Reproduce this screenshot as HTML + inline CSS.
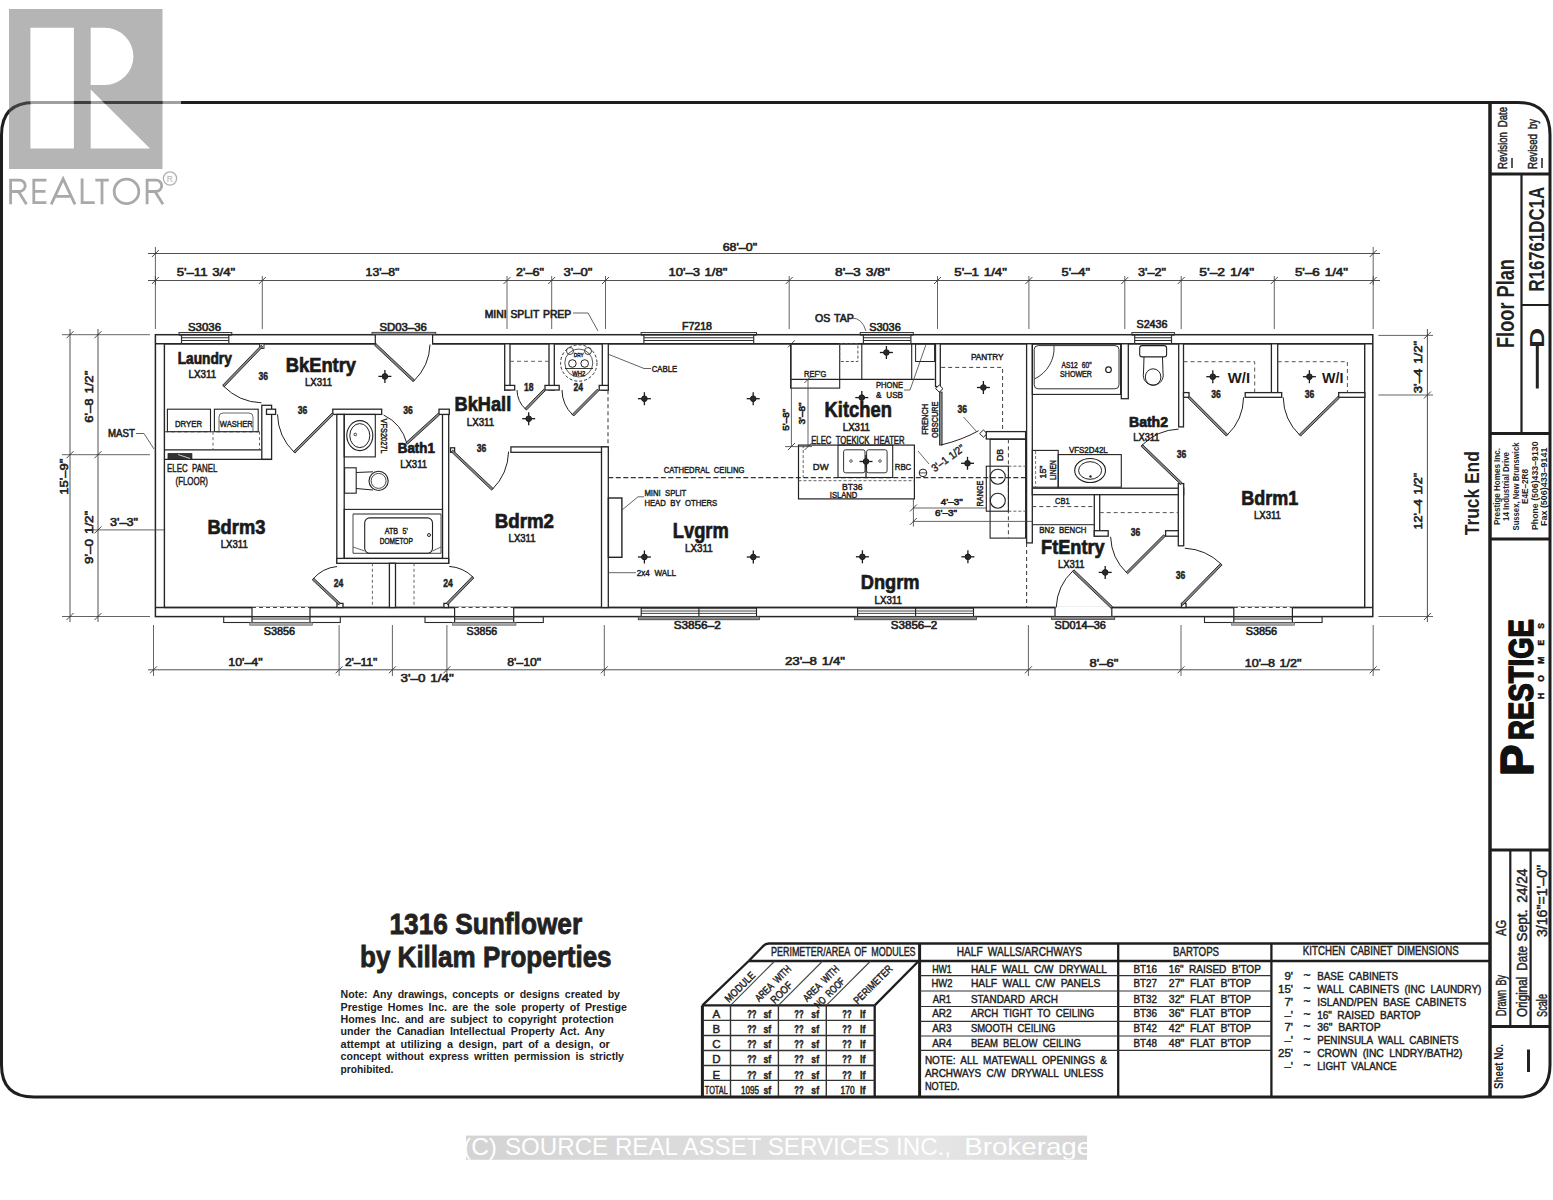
<!DOCTYPE html><html><head><meta charset="utf-8"><style>html,body{margin:0;padding:0;background:#fff;width:1553px;height:1200px;overflow:hidden}svg{display:block}text{font-family:"Liberation Sans",sans-serif;fill:#222}.hv text,text.hv{stroke:#222;stroke-width:0.45;word-spacing:3px}.hv2 text{stroke-width:0.6;word-spacing:1px}</style></head><body>
<svg width="1553" height="1200" viewBox="0 0 1553 1200"><rect width="1553" height="1200" fill="#fff"/>
<g stroke="#1e1e1e" stroke-width="3" fill="none">
<path d="M1.5,135 Q1.5,102.5 34,102.5 L1518,102.5 Q1550,102.5 1550,135 L1550,1065 Q1550,1097 1518,1097 L34,1097 Q1.5,1097 1.5,1065 Z"/>
</g>
<line x1="1490" y1="102.5" x2="1490" y2="1097" stroke="#1e1e1e" stroke-width="3.5"/>
<line x1="1490" y1="174" x2="1550" y2="174" stroke="#1e1e1e" stroke-width="3"/>
<line x1="1490" y1="433.5" x2="1550" y2="433.5" stroke="#1e1e1e" stroke-width="3"/>
<line x1="1490" y1="539" x2="1550" y2="539" stroke="#1e1e1e" stroke-width="3"/>
<line x1="1490" y1="850" x2="1550" y2="850" stroke="#1e1e1e" stroke-width="3"/>
<line x1="1490" y1="1026.5" x2="1550" y2="1026.5" stroke="#1e1e1e" stroke-width="3"/>
<line x1="1521.5" y1="174" x2="1521.5" y2="433.5" stroke="#1e1e1e" stroke-width="2.2"/>
<line x1="1521.5" y1="305" x2="1550" y2="305" stroke="#1e1e1e" stroke-width="2"/>
<line x1="1510.3" y1="850" x2="1510.3" y2="1026.5" stroke="#1e1e1e" stroke-width="2.2"/>
<line x1="1530.6" y1="850" x2="1530.6" y2="1026.5" stroke="#1e1e1e" stroke-width="2.2"/>
<text transform="translate(1506.5,169) rotate(-90)" font-size="13" textLength="62" lengthAdjust="spacingAndGlyphs" class="hv">Revision Date</text>
<text transform="translate(1536.5,169) rotate(-90)" font-size="13" textLength="50" lengthAdjust="spacingAndGlyphs" class="hv">Revised by</text>
<line x1="1512" y1="158" x2="1512" y2="168" stroke="#222" stroke-width="1.5"/>
<line x1="1542" y1="158" x2="1542" y2="168" stroke="#222" stroke-width="1.5"/>
<text transform="translate(1514.3,348) rotate(-90)" font-size="24.5" font-weight="bold" textLength="89" lengthAdjust="spacingAndGlyphs" >Floor Plan</text>
<text transform="translate(1544,291.6) rotate(-90)" font-size="22" font-weight="bold" textLength="104.7" lengthAdjust="spacingAndGlyphs" >R16761DC1A</text>
<line x1="1537.3" y1="346" x2="1537.3" y2="388.5" stroke="#222" stroke-width="3"/>
<text transform="translate(1544,348) rotate(-90)" font-size="21" font-weight="bold" textLength="20.3" lengthAdjust="spacingAndGlyphs" >D</text>
<text transform="translate(1499.5,525) rotate(-90)" font-size="9" font-weight="bold" textLength="77" lengthAdjust="spacingAndGlyphs" >Prestige Homes Inc.</text>
<text transform="translate(1509,521) rotate(-90)" font-size="9" font-weight="bold" textLength="69" lengthAdjust="spacingAndGlyphs" >14 Industrial Drive</text>
<text transform="translate(1518.5,530.5) rotate(-90)" font-size="9" font-weight="bold" textLength="88" lengthAdjust="spacingAndGlyphs" >Sussex, New Brunswick</text>
<text transform="translate(1528,504) rotate(-90)" font-size="9" font-weight="bold" textLength="35" lengthAdjust="spacingAndGlyphs" >E4E–2R8</text>
<text transform="translate(1537.5,530) rotate(-90)" font-size="9" font-weight="bold" textLength="88.5" lengthAdjust="spacingAndGlyphs" >Phone  (506)433–9130</text>
<text transform="translate(1547,526) rotate(-90)" font-size="9" font-weight="bold" textLength="78.5" lengthAdjust="spacingAndGlyphs" >Fax  (506)433–9141</text>
<g transform="translate(1533,776) rotate(-90)" style="stroke:#111;stroke-width:1.6;stroke-linejoin:round">
<text x="0" y="0" font-size="46" font-weight="bold" textLength="31.5" lengthAdjust="spacingAndGlyphs" style="fill:#111" >P</text>
<text x="36" y="0" font-size="35.5" font-weight="bold" textLength="121" lengthAdjust="spacingAndGlyphs" style="fill:#111" >RESTIGE</text>
</g>
<g transform="translate(1533,776) rotate(-90)">
<text x="77" y="11" font-size="8.5" font-weight="bold" textLength="76" lengthAdjust="spacing" style="fill:#111;stroke:#111;stroke-width:0.4">HOMES</text>
</g>
<text transform="translate(1506.3,1016) rotate(-90)" font-size="14" textLength="41" lengthAdjust="spacingAndGlyphs" class="hv">Drawn By</text>
<text transform="translate(1506.3,936) rotate(-90)" font-size="14" textLength="16" lengthAdjust="spacingAndGlyphs" class="hv">AG</text>
<text transform="translate(1526.5,1017) rotate(-90)" font-size="14" textLength="71" lengthAdjust="spacingAndGlyphs" class="hv">Original Date</text>
<text transform="translate(1526.5,941.5) rotate(-90)" font-size="14" textLength="73" lengthAdjust="spacingAndGlyphs" class="hv">Sept. 24/24</text>
<text transform="translate(1546.5,1017) rotate(-90)" font-size="14" textLength="23" lengthAdjust="spacingAndGlyphs" class="hv">Scale</text>
<text transform="translate(1546.5,937) rotate(-90)" font-size="14" textLength="72" lengthAdjust="spacingAndGlyphs" class="hv">3/16"=1'–0"</text>
<text transform="translate(1503,1089) rotate(-90)" font-size="12.5" font-weight="bold" textLength="45" lengthAdjust="spacingAndGlyphs" >Sheet No.</text>
<line x1="1528.5" y1="1049.5" x2="1528.5" y2="1072" stroke="#222" stroke-width="3"/>
<text transform="translate(1478.8,535.2) rotate(-90)" font-size="21" font-weight="bold" textLength="84" lengthAdjust="spacingAndGlyphs" >Truck End</text>
<text x="389.5" y="933.8" font-size="29" font-weight="bold" textLength="192.7" lengthAdjust="spacingAndGlyphs" style="stroke:#222;stroke-width:0.8">1316 Sunflower</text>
<text x="360" y="967.3" font-size="29" font-weight="bold" textLength="251.6" lengthAdjust="spacingAndGlyphs" style="stroke:#222;stroke-width:0.8">by Killam Properties</text>
<text x="340.6" y="998.2" font-size="11.5" font-weight="bold" textLength="279.4" lengthAdjust="spacingAndGlyphs" style="word-spacing:2.5px">Note:  Any drawings, concepts or designs created by</text>
<text x="340.6" y="1010.6" font-size="11.5" font-weight="bold" textLength="286.4" lengthAdjust="spacingAndGlyphs" style="word-spacing:2.5px">Prestige Homes Inc. are the sole property of Prestige</text>
<text x="340.6" y="1023.0" font-size="11.5" font-weight="bold" textLength="273.2" lengthAdjust="spacingAndGlyphs" style="word-spacing:2.5px">Homes Inc. and are subject to copyright protection</text>
<text x="340.6" y="1035.4" font-size="11.5" font-weight="bold" textLength="264" lengthAdjust="spacingAndGlyphs" style="word-spacing:2.5px">under the Canadian Intellectual Property Act. Any</text>
<text x="340.6" y="1047.8" font-size="11.5" font-weight="bold" textLength="269.2" lengthAdjust="spacingAndGlyphs" style="word-spacing:2.5px">attempt at utilizing a design, part of a design, or</text>
<text x="340.6" y="1060.2" font-size="11.5" font-weight="bold" textLength="283.4" lengthAdjust="spacingAndGlyphs" style="word-spacing:2.5px">concept without express written permission is strictly</text>
<text x="340.6" y="1072.6000000000001" font-size="11.5" font-weight="bold" textLength="52.8" lengthAdjust="spacingAndGlyphs" style="word-spacing:2.5px">prohibited.</text>
<g class="hv">
<path d="M748.7,961 L762,947.3 Q765,943.5 769,943.5 L1490,943.5" stroke="#1e1e1e" stroke-width="2.3" fill="none" />
<line x1="748.7" y1="961" x2="1490" y2="961" stroke="#1e1e1e" stroke-width="2.3"/>
<line x1="702.4" y1="1005.4" x2="874.7" y2="1005.4" stroke="#1e1e1e" stroke-width="2.3"/>
<line x1="702.4" y1="1005.4" x2="702.4" y2="1096" stroke="#1e1e1e" stroke-width="3.0"/>
<line x1="874.7" y1="1005.4" x2="874.7" y2="1096" stroke="#1e1e1e" stroke-width="2.3"/>
<line x1="702.4" y1="1005.4" x2="748.7" y2="961" stroke="#1e1e1e" stroke-width="2.3"/>
<line x1="874.7" y1="1005.4" x2="918.7" y2="961" stroke="#1e1e1e" stroke-width="2.3"/>
<line x1="919.6" y1="943.5" x2="919.6" y2="1096" stroke="#1e1e1e" stroke-width="3.0"/>
<line x1="730.5" y1="1005.4" x2="730.5" y2="1096" stroke="#333" stroke-width="1.4"/>
<line x1="730.5" y1="1005.4" x2="774.8" y2="961" stroke="#444" stroke-width="1.1"/>
<line x1="778.4" y1="1005.4" x2="778.4" y2="1096" stroke="#333" stroke-width="1.4"/>
<line x1="778.4" y1="1005.4" x2="822.6999999999999" y2="961" stroke="#444" stroke-width="1.1"/>
<line x1="826.3" y1="1005.4" x2="826.3" y2="1096" stroke="#333" stroke-width="1.4"/>
<line x1="826.3" y1="1005.4" x2="870.5999999999999" y2="961" stroke="#444" stroke-width="1.1"/>
<line x1="702.4" y1="1020.4" x2="874.7" y2="1020.4" stroke="#333" stroke-width="1.4"/>
<line x1="702.4" y1="1035.5" x2="874.7" y2="1035.5" stroke="#333" stroke-width="1.4"/>
<line x1="702.4" y1="1050.5" x2="874.7" y2="1050.5" stroke="#333" stroke-width="1.4"/>
<line x1="702.4" y1="1065.5" x2="874.7" y2="1065.5" stroke="#333" stroke-width="1.4"/>
<line x1="702.4" y1="1080.4" x2="874.7" y2="1080.4" stroke="#333" stroke-width="1.4"/>
<text x="771" y="955.5" font-size="12.5" textLength="144.6" lengthAdjust="spacingAndGlyphs" >PERIMETER/AREA OF MODULES</text>
<text transform="translate(742.5,989.5) rotate(-45)" font-size="10.5" text-anchor="middle" textLength="38" lengthAdjust="spacingAndGlyphs">MODULE</text>
<text transform="translate(775.5,986) rotate(-45)" font-size="10.5" text-anchor="middle" textLength="46" lengthAdjust="spacingAndGlyphs">AREA WITH</text>
<text transform="translate(784,995) rotate(-45)" font-size="10.5" text-anchor="middle" textLength="26" lengthAdjust="spacingAndGlyphs">ROOF</text>
<text transform="translate(823.5,986) rotate(-45)" font-size="10.5" text-anchor="middle" textLength="46" lengthAdjust="spacingAndGlyphs">AREA WITH</text>
<text transform="translate(832,995.5) rotate(-45)" font-size="10.5" text-anchor="middle" textLength="38" lengthAdjust="spacingAndGlyphs">NO ROOF</text>
<text transform="translate(875.5,987) rotate(-45)" font-size="10.5" text-anchor="middle" textLength="50" lengthAdjust="spacingAndGlyphs">PERIMETER</text>
<text x="716.3" y="1018.3" font-size="11.5" text-anchor="middle" >A</text>
<text x="751.8" y="1018.3" font-size="11" font-weight="bold" text-anchor="middle" textLength="9.3" lengthAdjust="spacingAndGlyphs" >??</text>
<text x="767.3" y="1018.3" font-size="11" font-weight="bold" text-anchor="middle" textLength="7.7" lengthAdjust="spacingAndGlyphs" >sf</text>
<text x="799" y="1018.3" font-size="11" font-weight="bold" text-anchor="middle" textLength="9.3" lengthAdjust="spacingAndGlyphs" >??</text>
<text x="815.2" y="1018.3" font-size="11" font-weight="bold" text-anchor="middle" textLength="7.7" lengthAdjust="spacingAndGlyphs" >sf</text>
<text x="847" y="1018.3" font-size="11" font-weight="bold" text-anchor="middle" textLength="9.3" lengthAdjust="spacingAndGlyphs" >??</text>
<text x="862.8" y="1018.3" font-size="11" font-weight="bold" text-anchor="middle" textLength="5.4" lengthAdjust="spacingAndGlyphs" >lf</text>
<text x="716.3" y="1033.35" font-size="11.5" text-anchor="middle" >B</text>
<text x="751.8" y="1033.35" font-size="11" font-weight="bold" text-anchor="middle" textLength="9.3" lengthAdjust="spacingAndGlyphs" >??</text>
<text x="767.3" y="1033.35" font-size="11" font-weight="bold" text-anchor="middle" textLength="7.7" lengthAdjust="spacingAndGlyphs" >sf</text>
<text x="799" y="1033.35" font-size="11" font-weight="bold" text-anchor="middle" textLength="9.3" lengthAdjust="spacingAndGlyphs" >??</text>
<text x="815.2" y="1033.35" font-size="11" font-weight="bold" text-anchor="middle" textLength="7.7" lengthAdjust="spacingAndGlyphs" >sf</text>
<text x="847" y="1033.35" font-size="11" font-weight="bold" text-anchor="middle" textLength="9.3" lengthAdjust="spacingAndGlyphs" >??</text>
<text x="862.8" y="1033.35" font-size="11" font-weight="bold" text-anchor="middle" textLength="5.4" lengthAdjust="spacingAndGlyphs" >lf</text>
<text x="716.3" y="1048.3999999999999" font-size="11.5" text-anchor="middle" >C</text>
<text x="751.8" y="1048.3999999999999" font-size="11" font-weight="bold" text-anchor="middle" textLength="9.3" lengthAdjust="spacingAndGlyphs" >??</text>
<text x="767.3" y="1048.3999999999999" font-size="11" font-weight="bold" text-anchor="middle" textLength="7.7" lengthAdjust="spacingAndGlyphs" >sf</text>
<text x="799" y="1048.3999999999999" font-size="11" font-weight="bold" text-anchor="middle" textLength="9.3" lengthAdjust="spacingAndGlyphs" >??</text>
<text x="815.2" y="1048.3999999999999" font-size="11" font-weight="bold" text-anchor="middle" textLength="7.7" lengthAdjust="spacingAndGlyphs" >sf</text>
<text x="847" y="1048.3999999999999" font-size="11" font-weight="bold" text-anchor="middle" textLength="9.3" lengthAdjust="spacingAndGlyphs" >??</text>
<text x="862.8" y="1048.3999999999999" font-size="11" font-weight="bold" text-anchor="middle" textLength="5.4" lengthAdjust="spacingAndGlyphs" >lf</text>
<text x="716.3" y="1063.45" font-size="11.5" text-anchor="middle" >D</text>
<text x="751.8" y="1063.45" font-size="11" font-weight="bold" text-anchor="middle" textLength="9.3" lengthAdjust="spacingAndGlyphs" >??</text>
<text x="767.3" y="1063.45" font-size="11" font-weight="bold" text-anchor="middle" textLength="7.7" lengthAdjust="spacingAndGlyphs" >sf</text>
<text x="799" y="1063.45" font-size="11" font-weight="bold" text-anchor="middle" textLength="9.3" lengthAdjust="spacingAndGlyphs" >??</text>
<text x="815.2" y="1063.45" font-size="11" font-weight="bold" text-anchor="middle" textLength="7.7" lengthAdjust="spacingAndGlyphs" >sf</text>
<text x="847" y="1063.45" font-size="11" font-weight="bold" text-anchor="middle" textLength="9.3" lengthAdjust="spacingAndGlyphs" >??</text>
<text x="862.8" y="1063.45" font-size="11" font-weight="bold" text-anchor="middle" textLength="5.4" lengthAdjust="spacingAndGlyphs" >lf</text>
<text x="716.3" y="1078.5" font-size="11.5" text-anchor="middle" >E</text>
<text x="751.8" y="1078.5" font-size="11" font-weight="bold" text-anchor="middle" textLength="9.3" lengthAdjust="spacingAndGlyphs" >??</text>
<text x="767.3" y="1078.5" font-size="11" font-weight="bold" text-anchor="middle" textLength="7.7" lengthAdjust="spacingAndGlyphs" >sf</text>
<text x="799" y="1078.5" font-size="11" font-weight="bold" text-anchor="middle" textLength="9.3" lengthAdjust="spacingAndGlyphs" >??</text>
<text x="815.2" y="1078.5" font-size="11" font-weight="bold" text-anchor="middle" textLength="7.7" lengthAdjust="spacingAndGlyphs" >sf</text>
<text x="847" y="1078.5" font-size="11" font-weight="bold" text-anchor="middle" textLength="9.3" lengthAdjust="spacingAndGlyphs" >??</text>
<text x="862.8" y="1078.5" font-size="11" font-weight="bold" text-anchor="middle" textLength="5.4" lengthAdjust="spacingAndGlyphs" >lf</text>
<text x="716.3" y="1093.6" font-size="10.5" text-anchor="middle" textLength="23" lengthAdjust="spacingAndGlyphs" >TOTAL</text>
<text x="750" y="1093.6" font-size="10" text-anchor="middle" textLength="18" lengthAdjust="spacingAndGlyphs" >1095</text>
<text x="767.3" y="1093.6" font-size="11" font-weight="bold" text-anchor="middle" textLength="7.7" lengthAdjust="spacingAndGlyphs" >sf</text>
<text x="799" y="1093.6" font-size="11" font-weight="bold" text-anchor="middle" textLength="9.3" lengthAdjust="spacingAndGlyphs" >??</text>
<text x="815.2" y="1093.6" font-size="11" font-weight="bold" text-anchor="middle" textLength="7.7" lengthAdjust="spacingAndGlyphs" >sf</text>
<text x="847.6" y="1093.6" font-size="10" text-anchor="middle" textLength="14" lengthAdjust="spacingAndGlyphs" >170</text>
<text x="862.8" y="1093.6" font-size="11" font-weight="bold" text-anchor="middle" textLength="5.4" lengthAdjust="spacingAndGlyphs" >lf</text>
<line x1="1118.2" y1="943.5" x2="1118.2" y2="1096" stroke="#1e1e1e" stroke-width="2.3"/>
<line x1="1271.4" y1="943.5" x2="1271.4" y2="1096" stroke="#1e1e1e" stroke-width="2.3"/>
<line x1="919.6" y1="975.6" x2="1271.4" y2="975.6" stroke="#333" stroke-width="1.2"/>
<line x1="919.6" y1="991" x2="1271.4" y2="991" stroke="#333" stroke-width="1.2"/>
<line x1="919.6" y1="1006.5" x2="1271.4" y2="1006.5" stroke="#333" stroke-width="1.2"/>
<line x1="919.6" y1="1021.4" x2="1271.4" y2="1021.4" stroke="#333" stroke-width="1.2"/>
<line x1="919.6" y1="1036" x2="1271.4" y2="1036" stroke="#333" stroke-width="1.2"/>
<line x1="919.6" y1="1050.4" x2="1271.4" y2="1050.4" stroke="#333" stroke-width="1.2"/>
<text x="956.7" y="955.5" font-size="12.5" textLength="125.3" lengthAdjust="spacingAndGlyphs" >HALF WALLS/ARCHWAYS</text>
<text x="941.9" y="972.5" font-size="11.5" text-anchor="middle" textLength="19.5" lengthAdjust="spacingAndGlyphs" >HW1</text>
<text x="970.9" y="972.5" font-size="11.5" textLength="136" lengthAdjust="spacingAndGlyphs" >HALF WALL C/W DRYWALL</text>
<text x="941.9" y="987.4" font-size="11.5" text-anchor="middle" textLength="21" lengthAdjust="spacingAndGlyphs" >HW2</text>
<text x="970.9" y="987.4" font-size="11.5" textLength="129.5" lengthAdjust="spacingAndGlyphs" >HALF WALL C/W PANELS</text>
<text x="941.9" y="1002.5" font-size="11.5" text-anchor="middle" textLength="18.5" lengthAdjust="spacingAndGlyphs" >AR1</text>
<text x="970.9" y="1002.5" font-size="11.5" textLength="87" lengthAdjust="spacingAndGlyphs" >STANDARD ARCH</text>
<text x="941.9" y="1017" font-size="11.5" text-anchor="middle" textLength="19.5" lengthAdjust="spacingAndGlyphs" >AR2</text>
<text x="970.9" y="1017" font-size="11.5" textLength="123.5" lengthAdjust="spacingAndGlyphs" >ARCH TIGHT TO CEILING</text>
<text x="941.9" y="1032" font-size="11.5" text-anchor="middle" textLength="19.5" lengthAdjust="spacingAndGlyphs" >AR3</text>
<text x="970.9" y="1032" font-size="11.5" textLength="84.5" lengthAdjust="spacingAndGlyphs" >SMOOTH CEILING</text>
<text x="941.9" y="1046.9" font-size="11.5" text-anchor="middle" textLength="19.5" lengthAdjust="spacingAndGlyphs" >AR4</text>
<text x="970.9" y="1046.9" font-size="11.5" textLength="110" lengthAdjust="spacingAndGlyphs" >BEAM BELOW CEILING</text>
<text x="924.9" y="1063.9" font-size="11.5" textLength="182" lengthAdjust="spacingAndGlyphs" >NOTE:  ALL MATEWALL OPENINGS &amp;</text>
<text x="924.9" y="1077.3" font-size="11.5" textLength="178.5" lengthAdjust="spacingAndGlyphs" >ARCHWAYS C/W DRYWALL UNLESS</text>
<text x="924.9" y="1090" font-size="11.5" textLength="34.7" lengthAdjust="spacingAndGlyphs" >NOTED.</text>
<text x="1173" y="955.5" font-size="12.5" textLength="46.1" lengthAdjust="spacingAndGlyphs" >BARTOPS</text>
<text x="1133.4" y="972.5" font-size="11.5" textLength="23.5" lengthAdjust="spacingAndGlyphs" >BT16</text>
<text x="1168.8" y="972.5" font-size="11.5" textLength="92.1" lengthAdjust="spacingAndGlyphs" >16" RAISED B'TOP</text>
<text x="1133.4" y="987.4" font-size="11.5" textLength="23.5" lengthAdjust="spacingAndGlyphs" >BT27</text>
<text x="1168.8" y="987.4" font-size="11.5" textLength="82.2" lengthAdjust="spacingAndGlyphs" >27" FLAT B'TOP</text>
<text x="1133.4" y="1002.5" font-size="11.5" textLength="23.5" lengthAdjust="spacingAndGlyphs" >BT32</text>
<text x="1168.8" y="1002.5" font-size="11.5" textLength="82.2" lengthAdjust="spacingAndGlyphs" >32" FLAT B'TOP</text>
<text x="1133.4" y="1017" font-size="11.5" textLength="23.5" lengthAdjust="spacingAndGlyphs" >BT36</text>
<text x="1168.8" y="1017" font-size="11.5" textLength="82.2" lengthAdjust="spacingAndGlyphs" >36" FLAT B'TOP</text>
<text x="1133.4" y="1032" font-size="11.5" textLength="23.5" lengthAdjust="spacingAndGlyphs" >BT42</text>
<text x="1168.8" y="1032" font-size="11.5" textLength="82.2" lengthAdjust="spacingAndGlyphs" >42" FLAT B'TOP</text>
<text x="1133.4" y="1046.9" font-size="11.5" textLength="23.5" lengthAdjust="spacingAndGlyphs" >BT48</text>
<text x="1168.8" y="1046.9" font-size="11.5" textLength="82.2" lengthAdjust="spacingAndGlyphs" >48" FLAT B'TOP</text>
<text x="1302.8" y="955" font-size="12.5" textLength="155.9" lengthAdjust="spacingAndGlyphs" >KITCHEN CABINET DIMENSIONS</text>
<text x="1293" y="980" font-size="11.5" text-anchor="end" >9'</text>
<text x="1303.6" y="979" font-size="10" textLength="7" lengthAdjust="spacingAndGlyphs" >~</text>
<text x="1317.2" y="980" font-size="11.5" textLength="80.8" lengthAdjust="spacingAndGlyphs" >BASE CABINETS</text>
<text x="1293" y="992.8" font-size="11.5" text-anchor="end" >15'</text>
<text x="1303.6" y="991.8" font-size="10" textLength="7" lengthAdjust="spacingAndGlyphs" >~</text>
<text x="1317.2" y="992.8" font-size="11.5" textLength="164.2" lengthAdjust="spacingAndGlyphs" >WALL CABINETS (INC LAUNDRY)</text>
<text x="1293" y="1005.7" font-size="11.5" text-anchor="end" >7'</text>
<text x="1303.6" y="1004.7" font-size="10" textLength="7" lengthAdjust="spacingAndGlyphs" >~</text>
<text x="1317.2" y="1005.7" font-size="11.5" textLength="149" lengthAdjust="spacingAndGlyphs" >ISLAND/PEN BASE CABINETS</text>
<text x="1293" y="1018.5" font-size="11.5" text-anchor="end" >–'</text>
<text x="1303.6" y="1017.5" font-size="10" textLength="7" lengthAdjust="spacingAndGlyphs" >~</text>
<text x="1317.2" y="1018.5" font-size="11.5" textLength="103.6" lengthAdjust="spacingAndGlyphs" >16" RAISED BARTOP</text>
<text x="1293" y="1031" font-size="11.5" text-anchor="end" >7'</text>
<text x="1303.6" y="1030" font-size="10" textLength="7" lengthAdjust="spacingAndGlyphs" >~</text>
<text x="1317.2" y="1031" font-size="11.5" textLength="63.5" lengthAdjust="spacingAndGlyphs" >36" BARTOP</text>
<text x="1293" y="1043.8" font-size="11.5" text-anchor="end" >–'</text>
<text x="1303.6" y="1042.8" font-size="10" textLength="7" lengthAdjust="spacingAndGlyphs" >~</text>
<text x="1317.2" y="1043.8" font-size="11.5" textLength="141.5" lengthAdjust="spacingAndGlyphs" >PENINSULA WALL CABINETS</text>
<text x="1293" y="1056.8" font-size="11.5" text-anchor="end" >25'</text>
<text x="1303.6" y="1055.8" font-size="10" textLength="7" lengthAdjust="spacingAndGlyphs" >~</text>
<text x="1317.2" y="1056.8" font-size="11.5" textLength="145.3" lengthAdjust="spacingAndGlyphs" >CROWN (INC LNDRY/BATH2)</text>
<text x="1293" y="1069.5" font-size="11.5" text-anchor="end" >–'</text>
<text x="1303.6" y="1068.5" font-size="10" textLength="7" lengthAdjust="spacingAndGlyphs" >~</text>
<text x="1317.2" y="1069.5" font-size="11.5" textLength="79.4" lengthAdjust="spacingAndGlyphs" >LIGHT VALANCE</text>
</g>
<g id="plan">
<rect x="155.4" y="334.7" width="1217.4" height="281.9" fill="none" stroke="#262626" stroke-width="1.5"/>
<rect x="164.4" y="343.8" width="1200.3" height="263.7" fill="none" stroke="#262626" stroke-width="1.4"/>
<line x1="155.4" y1="343.8" x2="1372.8" y2="343.8" stroke="#262626" stroke-width="1.4"/>
<line x1="155.4" y1="607.5" x2="1372.8" y2="607.5" stroke="#262626" stroke-width="1.4"/>
<rect x="181.5" y="335.6" width="47.30000000000001" height="7.4" fill="#fff"/>
<rect x="179" y="332.6" width="52.80000000000001" height="2.1" fill="#fff" stroke="#2a2a2a" stroke-width="1"/>
<line x1="179" y1="334.7" x2="231.8" y2="334.7" stroke="#262626" stroke-width="1.4"/>
<line x1="181.5" y1="337.8" x2="228.8" y2="337.8" stroke="#2e2e2e" stroke-width="1.1"/>
<line x1="181.5" y1="340.5" x2="228.8" y2="340.5" stroke="#2e2e2e" stroke-width="1.1"/>
<line x1="181.5" y1="334.7" x2="181.5" y2="343.8" stroke="#333" stroke-width="1.2"/>
<line x1="228.8" y1="334.7" x2="228.8" y2="343.8" stroke="#333" stroke-width="1.2"/>
<rect x="643.9" y="335.6" width="109.80000000000007" height="7.4" fill="#fff"/>
<rect x="641.1" y="332.6" width="115.39999999999998" height="2.1" fill="#fff" stroke="#2a2a2a" stroke-width="1"/>
<line x1="641.1" y1="334.7" x2="756.5" y2="334.7" stroke="#262626" stroke-width="1.4"/>
<line x1="643.9" y1="337.8" x2="753.7" y2="337.8" stroke="#2e2e2e" stroke-width="1.1"/>
<line x1="643.9" y1="340.5" x2="753.7" y2="340.5" stroke="#2e2e2e" stroke-width="1.1"/>
<line x1="643.9" y1="334.7" x2="643.9" y2="343.8" stroke="#333" stroke-width="1.2"/>
<line x1="753.7" y1="334.7" x2="753.7" y2="343.8" stroke="#333" stroke-width="1.2"/>
<rect x="863.4" y="335.6" width="47.5" height="7.4" fill="#fff"/>
<rect x="860.2" y="332.6" width="53.09999999999991" height="2.1" fill="#fff" stroke="#2a2a2a" stroke-width="1"/>
<line x1="860.2" y1="334.7" x2="913.3" y2="334.7" stroke="#262626" stroke-width="1.4"/>
<line x1="863.4" y1="337.8" x2="910.9" y2="337.8" stroke="#2e2e2e" stroke-width="1.1"/>
<line x1="863.4" y1="340.5" x2="910.9" y2="340.5" stroke="#2e2e2e" stroke-width="1.1"/>
<line x1="863.4" y1="334.7" x2="863.4" y2="343.8" stroke="#333" stroke-width="1.2"/>
<line x1="910.9" y1="334.7" x2="910.9" y2="343.8" stroke="#333" stroke-width="1.2"/>
<rect x="1134.7" y="335.6" width="36.799999999999955" height="7.4" fill="#fff"/>
<rect x="1131.9" y="332.6" width="42.5" height="2.1" fill="#fff" stroke="#2a2a2a" stroke-width="1"/>
<line x1="1131.9" y1="334.7" x2="1174.4" y2="334.7" stroke="#262626" stroke-width="1.4"/>
<line x1="1134.7" y1="337.8" x2="1171.5" y2="337.8" stroke="#2e2e2e" stroke-width="1.1"/>
<line x1="1134.7" y1="340.5" x2="1171.5" y2="340.5" stroke="#2e2e2e" stroke-width="1.1"/>
<line x1="1134.7" y1="334.7" x2="1134.7" y2="343.8" stroke="#333" stroke-width="1.2"/>
<line x1="1171.5" y1="334.7" x2="1171.5" y2="343.8" stroke="#333" stroke-width="1.2"/>
<rect x="375.8" y="335.5" width="56.3" height="10" fill="#fff"/>
<rect x="372" y="332.3" width="63.8" height="2.4" fill="#999" stroke="#333" stroke-width="0.8"/>
<line x1="375.3" y1="334.7" x2="375.3" y2="343.8" stroke="#222" stroke-width="1.2"/>
<line x1="432.6" y1="334.7" x2="432.6" y2="343.8" stroke="#222" stroke-width="1.2"/>
<rect x="252" y="606.8" width="58" height="9" fill="#fff"/>
<line x1="252" y1="607.5" x2="310" y2="607.5" stroke="#444" stroke-width="1" stroke-dasharray="4,3"/>
<line x1="252" y1="607.5" x2="252" y2="622.5" stroke="#222" stroke-width="1.2"/>
<line x1="310" y1="607.5" x2="310" y2="622.5" stroke="#222" stroke-width="1.2"/>
<rect x="223.7" y="616.6" width="116.60000000000002" height="5.9" fill="none" stroke="#2a2a2a" stroke-width="1.1"/>
<line x1="252" y1="619" x2="310" y2="619" stroke="#333" stroke-width="1.1"/>
<rect x="249.7" y="622.5" width="62.6" height="2.7" fill="#aaa" stroke="#555" stroke-width="0.6"/>
<rect x="454.6" y="606.8" width="59.10000000000002" height="9" fill="#fff"/>
<line x1="454.6" y1="607.5" x2="513.7" y2="607.5" stroke="#444" stroke-width="1" stroke-dasharray="4,3"/>
<line x1="454.6" y1="607.5" x2="454.6" y2="622.5" stroke="#222" stroke-width="1.2"/>
<line x1="513.7" y1="607.5" x2="513.7" y2="622.5" stroke="#222" stroke-width="1.2"/>
<rect x="425" y="616.6" width="118.29999999999995" height="5.9" fill="none" stroke="#2a2a2a" stroke-width="1.1"/>
<line x1="454.6" y1="619" x2="513.7" y2="619" stroke="#333" stroke-width="1.1"/>
<rect x="452.3" y="622.5" width="63.700000000000024" height="2.7" fill="#aaa" stroke="#555" stroke-width="0.6"/>
<rect x="1233.8" y="606.8" width="58.600000000000136" height="9" fill="#fff"/>
<line x1="1233.8" y1="607.5" x2="1292.4" y2="607.5" stroke="#444" stroke-width="1" stroke-dasharray="4,3"/>
<line x1="1233.8" y1="607.5" x2="1233.8" y2="622.5" stroke="#222" stroke-width="1.2"/>
<line x1="1292.4" y1="607.5" x2="1292.4" y2="622.5" stroke="#222" stroke-width="1.2"/>
<rect x="1204.5" y="616.6" width="117.59999999999991" height="5.9" fill="none" stroke="#2a2a2a" stroke-width="1.1"/>
<line x1="1233.8" y1="619" x2="1292.4" y2="619" stroke="#333" stroke-width="1.1"/>
<rect x="1231.5" y="622.5" width="63.20000000000014" height="2.7" fill="#aaa" stroke="#555" stroke-width="0.6"/>
<rect x="641.2" y="608.2" width="115.29999999999995" height="7.6" fill="#fff"/>
<line x1="641.2" y1="608.6" x2="756.5" y2="608.6" stroke="#333" stroke-width="0.9"/>
<line x1="641.2" y1="611.0" x2="756.5" y2="611.0" stroke="#333" stroke-width="0.9"/>
<line x1="641.2" y1="613.4" x2="756.5" y2="613.4" stroke="#333" stroke-width="0.9"/>
<line x1="641.2" y1="607.5" x2="641.2" y2="616.6" stroke="#222" stroke-width="1.1"/>
<line x1="756.5" y1="607.5" x2="756.5" y2="616.6" stroke="#222" stroke-width="1.1"/>
<line x1="698.9" y1="607.5" x2="698.9" y2="616.6" stroke="#222" stroke-width="1.1"/>
<rect x="638.2" y="616.6" width="121.29999999999995" height="3.2" fill="#888" stroke="#333" stroke-width="0.7"/>
<rect x="857.6" y="608.2" width="115.89999999999998" height="7.6" fill="#fff"/>
<line x1="857.6" y1="608.6" x2="973.5" y2="608.6" stroke="#333" stroke-width="0.9"/>
<line x1="857.6" y1="611.0" x2="973.5" y2="611.0" stroke="#333" stroke-width="0.9"/>
<line x1="857.6" y1="613.4" x2="973.5" y2="613.4" stroke="#333" stroke-width="0.9"/>
<line x1="857.6" y1="607.5" x2="857.6" y2="616.6" stroke="#222" stroke-width="1.1"/>
<line x1="973.5" y1="607.5" x2="973.5" y2="616.6" stroke="#222" stroke-width="1.1"/>
<line x1="915.6" y1="607.5" x2="915.6" y2="616.6" stroke="#222" stroke-width="1.1"/>
<rect x="854.6" y="616.6" width="121.89999999999998" height="3.2" fill="#888" stroke="#333" stroke-width="0.7"/>
<rect x="1055.6" y="606.2" width="55.6" height="9.6" fill="#fff"/>
<line x1="1055" y1="607.5" x2="1055" y2="616.6" stroke="#222" stroke-width="1.2"/>
<line x1="1111.8" y1="607.5" x2="1111.8" y2="616.6" stroke="#222" stroke-width="1.2"/>
<rect x="1051.4" y="616.6" width="63.4" height="2.8" fill="#888" stroke="#333" stroke-width="0.7"/>
<line x1="164.4" y1="449.8" x2="261.5" y2="449.8" stroke="#222" stroke-width="1.2"/>
<rect x="261.8" y="405.3" width="9.80" height="54.10" fill="#fff" stroke="#262626" stroke-width="1.3"/>
<line x1="164.4" y1="459.4" x2="271.6" y2="459.4" stroke="#222" stroke-width="1.3"/>
<rect x="266.5" y="409.2" width="9.10" height="5.20" fill="#fff" stroke="#262626" stroke-width="1.3"/>
<rect x="167.4" y="409.2" width="43.1" height="22.5" stroke="#222" stroke-width="1.1" fill="none"/>
<rect x="214.4" y="409.2" width="43.8" height="22.5" stroke="#222" stroke-width="1.1" fill="none"/>
<path d="M219,431 V417 Q219,413 223,413 H249 Q253,413 253,417 V431" stroke="#444" stroke-width="0.8" fill="none" />
<line x1="164.4" y1="431.7" x2="261.5" y2="431.7" stroke="#333" stroke-width="1.1" stroke-dasharray="4,2.5"/>
<line x1="213" y1="431.7" x2="213" y2="449.8" stroke="#555" stroke-width="0.9" stroke-dasharray="3,2.5"/>
<line x1="259.5" y1="431.7" x2="259.5" y2="449.8" stroke="#555" stroke-width="0.9" stroke-dasharray="3,2.5"/>
<rect x="168" y="453.6" width="23.9" height="5.8" fill="#333" stroke="#222" stroke-width="0.8"/>
<path d="M178,454.5 L190,458.5" stroke="#ccc" stroke-width="1"/>
<rect x="332.8" y="409.2" width="48.90" height="5.20" fill="#fff" stroke="#262626" stroke-width="1.3"/>
<rect x="336.8" y="414.4" width="7.40" height="148.90" fill="#fff" stroke="#262626" stroke-width="1.3"/>
<rect x="442.5" y="414.4" width="6.20" height="148.90" fill="#fff" stroke="#262626" stroke-width="1.3"/>
<rect x="439" y="409.2" width="10.30" height="5.20" fill="#fff" stroke="#262626" stroke-width="1.3"/>
<rect x="336.8" y="558.4" width="111.90" height="4.90" fill="#fff" stroke="#262626" stroke-width="1.3"/>
<rect x="389.4" y="563.3" width="6.10" height="44.20" fill="#fff" stroke="#262626" stroke-width="1.3"/>
<line x1="372.4" y1="563.3" x2="372.4" y2="607.5" stroke="#555" stroke-width="0.9" stroke-dasharray="3,2.5"/>
<line x1="414" y1="563.3" x2="414" y2="607.5" stroke="#555" stroke-width="0.9" stroke-dasharray="3,2.5"/>
<rect x="337" y="603.4" width="6.00" height="4.10" fill="#fff" stroke="#262626" stroke-width="1.3"/>
<rect x="443.9" y="603.4" width="4.60" height="4.10" fill="#fff" stroke="#262626" stroke-width="1.3"/>
<rect x="504.7" y="343.8" width="5.30" height="46.20" fill="#fff" stroke="#262626" stroke-width="1.3"/>
<rect x="504.7" y="385.4" width="10.00" height="4.60" fill="#fff" stroke="#262626" stroke-width="1.3"/>
<rect x="549" y="343.8" width="5.30" height="46.20" fill="#fff" stroke="#262626" stroke-width="1.3"/>
<rect x="545" y="385.4" width="14.20" height="4.60" fill="#fff" stroke="#262626" stroke-width="1.3"/>
<line x1="510" y1="361.3" x2="549" y2="361.3" stroke="#555" stroke-width="0.9" stroke-dasharray="4,3"/>
<rect x="602.3" y="343.8" width="6.00" height="46.40" fill="#fff" stroke="#262626" stroke-width="1.3"/>
<rect x="599.2" y="385.4" width="9.10" height="4.80" fill="#fff" stroke="#262626" stroke-width="1.3"/>
<line x1="608" y1="390.2" x2="608" y2="447" stroke="#444" stroke-width="1.1" stroke-dasharray="4,3"/>
<rect x="510.9" y="446.9" width="96.80" height="5.40" fill="#fff" stroke="#262626" stroke-width="1.3"/>
<rect x="601.5" y="446.9" width="6.80" height="160.60" fill="#fff" stroke="#262626" stroke-width="1.3"/>
<rect x="450.5" y="447.8" width="4.10" height="4.50" fill="#fff" stroke="#262626" stroke-width="1.3"/>
<line x1="608.3" y1="477.6" x2="1026.6" y2="477.6" stroke="#333" stroke-width="1.2" stroke-dasharray="5,2.5"/>
<rect x="608.4" y="498" width="13.5" height="59.3" stroke="#222" stroke-width="1.4" fill="none"/>
<line x1="790.6" y1="379.4" x2="934.6" y2="379.4" stroke="#222" stroke-width="1.1"/>
<rect x="790.6" y="343.8" width="49.1" height="44.3" stroke="#222" stroke-width="1.1" fill="none"/>
<rect x="839.7" y="343.8" width="18.2" height="17.7" stroke="#555" stroke-width="1" fill="none" stroke-dasharray="3,2"/>
<line x1="861.8" y1="343.8" x2="861.8" y2="379.4" stroke="#222" stroke-width="1.1"/>
<line x1="911.7" y1="343.8" x2="911.7" y2="379.4" stroke="#222" stroke-width="1.1"/>
<rect x="915.6" y="343.8" width="19" height="17.7" stroke="#222" stroke-width="1" fill="none"/>
<rect x="798.5" y="445.1" width="115.9" height="53.8" stroke="#222" stroke-width="1.2" fill="none"/>
<rect x="838" y="445.1" width="54.7" height="32.4" stroke="#222" stroke-width="1.1" fill="none"/>
<rect x="843.6" y="449.8" width="21.4" height="23" rx="2" fill="none" stroke="#333" stroke-width="1"/>
<rect x="866.6" y="449.8" width="20.5" height="23" rx="2" fill="none" stroke="#333" stroke-width="1"/>
<line x1="803.2" y1="445.1" x2="803.2" y2="477.5" stroke="#555" stroke-width="0.9" stroke-dasharray="3,2"/>
<line x1="798.5" y1="480.7" x2="914.4" y2="480.7" stroke="#555" stroke-width="0.9" stroke-dasharray="3,2"/>
<circle cx="851" cy="461" r="1.3" fill="none" stroke="#333" stroke-width="0.8"/><circle cx="880" cy="461" r="1.3" fill="none" stroke="#333" stroke-width="0.8"/>
<g stroke="#1a1a1a"><line x1="859.5" y1="461.5" x2="872.5" y2="461.5" stroke-width="1.3"/><line x1="866" y1="455.0" x2="866" y2="468.0" stroke-width="1.3"/><circle cx="866" cy="461.5" r="2.8" fill="#2a2a2a" stroke-width="1"/></g>
<line x1="866" y1="461.5" x2="866" y2="477.5" stroke="#222" stroke-width="1.3"/>
<rect x="935.5" y="343.8" width="4.80" height="42.80" fill="#fff" stroke="#262626" stroke-width="1.3"/>
<path d="M939.3,385 L943,388.6 L939.3,392.2 L935.6,388.6 Z" fill="#fff" stroke="#222" stroke-width="1"/>
<rect x="939.5" y="392" width="2.6" height="53" fill="#888" stroke="#222" stroke-width="0.8"/>
<path d="M941,445 Q962,440 978.6,430.7" stroke="#222" stroke-width="1.0" fill="none" />
<path d="M983.4,430 L987.2,433.6 L983.4,437.2 L979.6,433.6 Z" fill="#fff" stroke="#222" stroke-width="1"/>
<rect x="986.3" y="431.6" width="39.30" height="7.40" fill="#fff" stroke="#262626" stroke-width="1.3"/>
<path d="M941.2,367.4 H1002.6 V431.6" stroke="#444" stroke-width="1.0" fill="none" stroke-dasharray="4,3" />
<rect x="1026.6" y="343.8" width="5.70" height="199.10" fill="#fff" stroke="#262626" stroke-width="1.3"/>
<line x1="1026.6" y1="542.9" x2="1026.6" y2="607.5" stroke="#444" stroke-width="1.1" stroke-dasharray="4,3"/>
<rect x="990.1" y="439.3" width="35.5" height="98.8" stroke="#222" stroke-width="1.1" fill="none"/>
<line x1="1008.4" y1="439.3" x2="1008.4" y2="538.1" stroke="#444" stroke-width="1.0" stroke-dasharray="4,3"/>
<rect x="986.3" y="466.2" width="22.1" height="45" stroke="#222" stroke-width="1.1" fill="none"/>
<circle cx="997.8" cy="476.7" r="7.5" fill="none" stroke="#222" stroke-width="1.1"/><circle cx="997.8" cy="500.7" r="7.5" fill="none" stroke="#222" stroke-width="1.1"/>
<line x1="1008.4" y1="466.2" x2="1026" y2="466.2" stroke="#555" stroke-width="0.9" stroke-dasharray="3,2"/>
<line x1="1008.4" y1="511.2" x2="1026" y2="511.2" stroke="#555" stroke-width="0.9" stroke-dasharray="3,2"/>
<circle cx="923" cy="472.9" r="3.8" fill="none" stroke="#222" stroke-width="1"/>
<line x1="919" y1="472.9" x2="927" y2="472.9" stroke="#222" stroke-width="0.8"/>
<rect x="1032.3" y="343.8" width="88.3" height="50.6" stroke="#222" stroke-width="1.1" fill="none"/>
<rect x="1034.2" y="345.6" width="84.8" height="43.2" rx="4" fill="none" stroke="#333" stroke-width="1"/>
<path d="M1054,345.8 A34,34 0 0 1 1034.5,378.9" stroke="#222" stroke-width="0.9" fill="none" />
<circle cx="1108.5" cy="369.7" r="2.8" fill="none" stroke="#222" stroke-width="1.2"/>
<rect x="1121.3" y="343.8" width="7.00" height="54.90" fill="#fff" stroke="#262626" stroke-width="1.3"/>
<rect x="1139.7" y="345.6" width="26.9" height="11.3" rx="2.5" fill="none" stroke="#222" stroke-width="1.1"/>
<path d="M1144,357 L1143.5,373 A10,10 0 1 0 1163,373 L1162.5,357" stroke="#222" stroke-width="1.0" fill="none" />
<ellipse cx="1153.1" cy="377" rx="7.8" ry="8.2" fill="none" stroke="#222" stroke-width="1"/>
<rect x="1178.7" y="343.8" width="4.80" height="83.10" fill="#fff" stroke="#262626" stroke-width="1.3"/>
<rect x="1183.5" y="392.6" width="5.50" height="4.70" fill="#fff" stroke="#262626" stroke-width="1.3"/>
<rect x="1271.4" y="343.8" width="6.30" height="53.50" fill="#fff" stroke="#262626" stroke-width="1.3"/>
<rect x="1245.2" y="392.6" width="36.50" height="4.70" fill="#fff" stroke="#262626" stroke-width="1.3"/>
<rect x="1338.7" y="392.6" width="26.10" height="4.70" fill="#fff" stroke="#262626" stroke-width="1.3"/>
<path d="M1183.5,361.7 H1254.7 V392.6" stroke="#555" stroke-width="1.0" fill="none" stroke-dasharray="4,3" />
<path d="M1277.7,361.7 H1347.4 V392.6" stroke="#555" stroke-width="1.0" fill="none" stroke-dasharray="4,3" />
<rect x="1058.2" y="454.6" width="63.1" height="32.6" stroke="#222" stroke-width="1.1" fill="none"/>
<ellipse cx="1090.1" cy="470.5" rx="15.4" ry="12" fill="none" stroke="#222" stroke-width="1.1"/><ellipse cx="1090.1" cy="470.5" rx="11.5" ry="8.8" fill="none" stroke="#222" stroke-width="1"/>
<circle cx="1090.5" cy="476.5" r="1.2" fill="#222"/>
<rect x="1032.3" y="450.4" width="25.9" height="36.8" stroke="#222" stroke-width="1.1" fill="none"/>
<line x1="1035.6" y1="451" x2="1035.6" y2="487" stroke="#555" stroke-width="0.8" stroke-dasharray="3,2"/>
<rect x="1032.3" y="488.2" width="151.40" height="6.50" fill="#fff" stroke="#262626" stroke-width="1.3"/>
<line x1="1032.3" y1="506.6" x2="1094.3" y2="506.6" stroke="#444" stroke-width="1.0" stroke-dasharray="4,3"/>
<line x1="1032.3" y1="524.7" x2="1094.3" y2="524.7" stroke="#222" stroke-width="1.0"/>
<rect x="1094.3" y="494.7" width="5.40" height="41.50" fill="#fff" stroke="#262626" stroke-width="1.3"/>
<rect x="1094.3" y="530.7" width="13.90" height="5.50" fill="#fff" stroke="#262626" stroke-width="1.3"/>
<rect x="1178.3" y="483.6" width="5.40" height="62.20" fill="#fff" stroke="#262626" stroke-width="1.3"/>
<rect x="1165.6" y="530.7" width="12.70" height="5.50" fill="#fff" stroke="#262626" stroke-width="1.3"/>
<line x1="1099.7" y1="512.6" x2="1178.3" y2="512.6" stroke="#555" stroke-width="1.0" stroke-dasharray="4,3"/>
<rect x="1181.5" y="603.4" width="4.50" height="4.10" fill="#fff" stroke="#262626" stroke-width="1.3"/>
<rect x="259.5" y="344" width="4.5" height="4.5" fill="#fff" stroke="#222" stroke-width="0.9"/>
<rect x="344.2" y="414.4" width="31.1" height="42.5" stroke="#222" stroke-width="1.1" fill="none"/>
<ellipse cx="359.8" cy="435.6" rx="13" ry="15" fill="none" stroke="#222" stroke-width="1.1"/><ellipse cx="359.8" cy="435.6" rx="10" ry="12" fill="none" stroke="#222" stroke-width="1"/><circle cx="355.3" cy="434.5" r="1.3" fill="none" stroke="#222" stroke-width="0.9"/>
<rect x="344.6" y="467.8" width="11.6" height="25.4" stroke="#222" stroke-width="1.1" fill="none"/>
<path d="M356.2,472.5 L373,471.8 M356.2,488.5 L373,490" stroke="#222" stroke-width="1.0" fill="none" />
<circle cx="378.6" cy="480.9" r="9.6" fill="none" stroke="#222" stroke-width="1.1"/><circle cx="378.6" cy="480.9" r="7.5" fill="none" stroke="#333" stroke-width="0.9"/>
<rect x="344.2" y="509.4" width="98.3" height="49" stroke="#222" stroke-width="1.1" fill="none"/>
<line x1="353" y1="514" x2="441" y2="514" stroke="#222" stroke-width="1.0"/>
<path d="M353,514 V553.3 H441 V514" fill="none" stroke="#333" stroke-width="0.9"/>
<rect x="364.7" y="517.9" width="67.8" height="35.4" rx="5" fill="none" stroke="#222" stroke-width="1.1"/>
<path d="M353,547 L364.7,551 M441,547 L432.5,551" stroke="#444" stroke-width="0.8"/>
<circle cx="429" cy="535" r="1.5" fill="none" stroke="#222" stroke-width="1"/>
<circle cx="578.8" cy="363" r="18.2" fill="none" stroke="#333" stroke-width="1" stroke-dasharray="3,2"/>
<circle cx="578.8" cy="363" r="14" fill="none" stroke="#444" stroke-width="0.9"/>
<circle cx="572.4" cy="363.5" r="3.8" fill="none" stroke="#222" stroke-width="1"/><circle cx="584.7" cy="363.5" r="3.8" fill="none" stroke="#222" stroke-width="1"/>
<line x1="565" y1="368.5" x2="593" y2="368.5" stroke="#222" stroke-width="0.9"/>
<circle cx="570" cy="351" r="3.5" fill="none" stroke="#333" stroke-width="0.9"/><circle cx="588" cy="351" r="3.5" fill="none" stroke="#333" stroke-width="0.9"/>
<path d="M261.21,345.24 L222.61,385.24 L224.19,386.76 L262.79,346.76 Z" fill="#888" stroke="#222" stroke-width="0.9"/>
<path d="M223.4,386 A55.58740864620332,55.58740864620332 0 0 0 261.4,402.8" fill="none" stroke="#222" stroke-width="1.0"/>
<path d="M332.12,412.92 L293.42,451.52 L294.98,453.08 L333.68,414.48 Z" fill="#888" stroke="#222" stroke-width="0.9"/>
<path d="M294.2,452.3 A54.65939992352643,54.65939992352643 0 0 1 277.5,414.4" fill="none" stroke="#222" stroke-width="1.0"/>
<path d="M438.26,413.19 L406.06,442.49 L407.54,444.11 L439.74,414.81 Z" fill="#888" stroke="#222" stroke-width="0.9"/>
<path d="M406.8,443.3 A43.53538790455415,43.53538790455415 0 0 0 383.6,415" fill="none" stroke="#222" stroke-width="1.0"/>
<path d="M374.55,345.30 L413.15,381.70 L414.65,380.10 L376.05,343.70 Z" fill="#888" stroke="#222" stroke-width="0.9"/>
<path d="M413.9,380.9 A53.05581966193714,53.05581966193714 0 0 0 430,344.5" fill="none" stroke="#222" stroke-width="1.0"/>
<path d="M543.61,389.23 L524.91,408.53 L526.49,410.07 L545.19,390.77 Z" fill="#888" stroke="#222" stroke-width="0.9"/>
<path d="M525.7,409.3 A26.873406929527896,26.873406929527896 0 0 1 517,390" fill="none" stroke="#222" stroke-width="1.0"/>
<path d="M597.22,389.23 L572.22,414.43 L573.78,415.97 L598.78,390.77 Z" fill="#888" stroke="#222" stroke-width="0.9"/>
<path d="M573,415.2 A35.49704213029586,35.49704213029586 0 0 1 562,390" fill="none" stroke="#222" stroke-width="1.0"/>
<path d="M451.24,451.80 L491.64,490.10 L493.16,488.50 L452.76,450.20 Z" fill="#888" stroke="#222" stroke-width="0.9"/>
<path d="M492.4,489.3 A55.6691117227498,55.6691117227498 0 0 0 508.6,451.6" fill="none" stroke="#222" stroke-width="1.0"/>
<path d="M340.25,603.20 L313.75,578.20 L312.25,579.80 L338.75,604.80 Z" fill="#888" stroke="#222" stroke-width="0.9"/>
<path d="M313,579 A36.43144246389374,36.43144246389374 0 0 1 337,566.5" fill="none" stroke="#222" stroke-width="1.0"/>
<path d="M447.79,604.77 L473.89,577.97 L472.31,576.43 L446.21,603.23 Z" fill="#888" stroke="#222" stroke-width="0.9"/>
<path d="M473.1,577.2 A37.409223461601,37.409223461601 0 0 0 449.2,566.4" fill="none" stroke="#222" stroke-width="1.0"/>
<line x1="963.5" y1="417" x2="976.5" y2="431.5" stroke="#444" stroke-width="0.8"/>
<line x1="918" y1="451" x2="929" y2="464" stroke="#444" stroke-width="0.8"/>
<path d="M1182.26,482.91 L1142.56,444.61 L1141.04,446.19 L1180.74,484.49 Z" fill="#888" stroke="#222" stroke-width="0.9"/>
<path d="M1141.8,445.4 A55.16321237926599,55.16321237926599 0 0 1 1178.6,429.1" fill="none" stroke="#222" stroke-width="1.0"/>
<path d="M1188.22,398.08 L1226.22,436.08 L1227.78,434.52 L1189.78,396.52 Z" fill="#888" stroke="#222" stroke-width="0.9"/>
<path d="M1227,435.3 A53.74011537017761,53.74011537017761 0 0 0 1243.6,397.3" fill="none" stroke="#222" stroke-width="1.0"/>
<path d="M1337.93,396.51 L1299.13,434.51 L1300.67,436.09 L1339.47,398.09 Z" fill="#888" stroke="#222" stroke-width="0.9"/>
<path d="M1299.9,435.3 A54.30874699346318,54.30874699346318 0 0 1 1283.2,397.3" fill="none" stroke="#222" stroke-width="1.0"/>
<path d="M1163.62,534.82 L1126.12,572.22 L1127.68,573.78 L1165.18,536.38 Z" fill="#888" stroke="#222" stroke-width="0.9"/>
<path d="M1126.9,573 A52.96234511424129,52.96234511424129 0 0 1 1110.6,536.8" fill="none" stroke="#222" stroke-width="1.0"/>
<path d="M1112.56,606.70 L1073.96,569.80 L1072.44,571.40 L1111.04,608.30 Z" fill="#888" stroke="#222" stroke-width="0.9"/>
<path d="M1073.2,570.6 A53.40009363287663,53.40009363287663 0 0 0 1056.2,607.5" fill="none" stroke="#222" stroke-width="1.0"/>
<path d="M1182.69,605.27 L1222.09,564.97 L1220.51,563.43 L1181.11,603.73 Z" fill="#888" stroke="#222" stroke-width="0.9"/>
<path d="M1221.3,564.2 A56.3600035486158,56.3600035486158 0 0 0 1184.8,548.2" fill="none" stroke="#222" stroke-width="1.0"/>
<text x="177.7" y="363.7" font-size="15.8" font-weight="bold" textLength="54.10000000000002" lengthAdjust="spacingAndGlyphs" style="stroke:#1a1a1a;stroke-width:0.7;fill:#1a1a1a">Laundry</text>
<text x="188.6" y="377.9" font-size="11.5" textLength="27.700000000000017" lengthAdjust="spacingAndGlyphs" style="stroke:#222;stroke-width:0.6;fill:#222">LX311</text>
<text x="285.8" y="371.9" font-size="20.2" font-weight="bold" textLength="70.19999999999999" lengthAdjust="spacingAndGlyphs" style="stroke:#1a1a1a;stroke-width:0.7;fill:#1a1a1a">BkEntry</text>
<text x="305" y="386" font-size="11.5" textLength="27.100000000000023" lengthAdjust="spacingAndGlyphs" style="stroke:#222;stroke-width:0.6;fill:#222">LX311</text>
<text x="454.6" y="411" font-size="20.1" font-weight="bold" textLength="56.599999999999966" lengthAdjust="spacingAndGlyphs" style="stroke:#1a1a1a;stroke-width:0.7;fill:#1a1a1a">BkHall</text>
<text x="466.8" y="425.7" font-size="11.5" textLength="27.399999999999977" lengthAdjust="spacingAndGlyphs" style="stroke:#222;stroke-width:0.6;fill:#222">LX311</text>
<text x="397.8" y="453.1" font-size="13.9" font-weight="bold" textLength="37.0" lengthAdjust="spacingAndGlyphs" style="stroke:#1a1a1a;stroke-width:0.7;fill:#1a1a1a">Bath1</text>
<text x="400.2" y="467.8" font-size="11.5" textLength="26.900000000000034" lengthAdjust="spacingAndGlyphs" style="stroke:#222;stroke-width:0.6;fill:#222">LX311</text>
<text x="207.4" y="533.7" font-size="20.4" font-weight="bold" textLength="57.99999999999997" lengthAdjust="spacingAndGlyphs" style="stroke:#1a1a1a;stroke-width:0.7;fill:#1a1a1a">Bdrm3</text>
<text x="220.8" y="547.8" font-size="11.5" textLength="26.899999999999977" lengthAdjust="spacingAndGlyphs" style="stroke:#222;stroke-width:0.6;fill:#222">LX311</text>
<text x="494.7" y="527.8" font-size="19.8" font-weight="bold" textLength="59.30000000000001" lengthAdjust="spacingAndGlyphs" style="stroke:#1a1a1a;stroke-width:0.7;fill:#1a1a1a">Bdrm2</text>
<text x="508.6" y="541.7" font-size="11.5" textLength="26.899999999999977" lengthAdjust="spacingAndGlyphs" style="stroke:#222;stroke-width:0.6;fill:#222">LX311</text>
<text x="672.8" y="538" font-size="21.4" font-weight="bold" textLength="56.0" lengthAdjust="spacingAndGlyphs" style="stroke:#1a1a1a;stroke-width:0.7;fill:#1a1a1a">Lvgrm</text>
<text x="685" y="551.5" font-size="11.5" textLength="27.700000000000045" lengthAdjust="spacingAndGlyphs" style="stroke:#222;stroke-width:0.6;fill:#222">LX311</text>
<text x="824.6" y="416.6" font-size="21.6" font-weight="bold" textLength="67.29999999999995" lengthAdjust="spacingAndGlyphs" style="stroke:#1a1a1a;stroke-width:0.7;fill:#1a1a1a">Kitchen</text>
<text x="842.8" y="430.8" font-size="11.5" textLength="27.200000000000045" lengthAdjust="spacingAndGlyphs" style="stroke:#222;stroke-width:0.6;fill:#222">LX311</text>
<text x="860.8" y="588.5" font-size="21.1" font-weight="bold" textLength="58.80000000000007" lengthAdjust="spacingAndGlyphs" style="stroke:#1a1a1a;stroke-width:0.7;fill:#1a1a1a">Dngrm</text>
<text x="874.5" y="603.5" font-size="11.5" textLength="27.399999999999977" lengthAdjust="spacingAndGlyphs" style="stroke:#222;stroke-width:0.6;fill:#222">LX311</text>
<text x="1129" y="427" font-size="13.9" font-weight="bold" textLength="39" lengthAdjust="spacingAndGlyphs" style="stroke:#1a1a1a;stroke-width:0.7;fill:#1a1a1a">Bath2</text>
<text x="1133.3" y="441.2" font-size="11.5" textLength="26.200000000000045" lengthAdjust="spacingAndGlyphs" style="stroke:#222;stroke-width:0.6;fill:#222">LX311</text>
<text x="1041.1" y="553.9" font-size="19.5" font-weight="bold" textLength="63.5" lengthAdjust="spacingAndGlyphs" style="stroke:#1a1a1a;stroke-width:0.7;fill:#1a1a1a">FtEntry</text>
<text x="1058" y="568.2" font-size="11.5" textLength="26.59999999999991" lengthAdjust="spacingAndGlyphs" style="stroke:#222;stroke-width:0.6;fill:#222">LX311</text>
<text x="1241.3" y="505" font-size="20.4" font-weight="bold" textLength="57.0" lengthAdjust="spacingAndGlyphs" style="stroke:#1a1a1a;stroke-width:0.7;fill:#1a1a1a">Bdrm1</text>
<text x="1254" y="518.5" font-size="11.5" textLength="26.90000000000009" lengthAdjust="spacingAndGlyphs" style="stroke:#222;stroke-width:0.6;fill:#222">LX311</text>
<text x="1227.8" y="383" font-size="15" font-weight="bold" textLength="22.2" lengthAdjust="spacingAndGlyphs" style="fill:#1a1a1a" >W/I</text>
<text x="1322" y="383" font-size="15" font-weight="bold" textLength="21.4" lengthAdjust="spacingAndGlyphs" style="fill:#1a1a1a" >W/I</text>
<g stroke="#1a1a1a"><line x1="378.4" y1="376.4" x2="391.4" y2="376.4" stroke-width="1.3"/><line x1="384.9" y1="369.9" x2="384.9" y2="382.9" stroke-width="1.3"/><circle cx="384.9" cy="376.4" r="2.8" fill="#2a2a2a" stroke-width="1"/></g>
<g stroke="#1a1a1a"><line x1="522.2" y1="418.7" x2="535.2" y2="418.7" stroke-width="1.3"/><line x1="528.7" y1="412.2" x2="528.7" y2="425.2" stroke-width="1.3"/><circle cx="528.7" cy="418.7" r="2.8" fill="#2a2a2a" stroke-width="1"/></g>
<g stroke="#1a1a1a"><line x1="637.9" y1="398.7" x2="650.9" y2="398.7" stroke-width="1.3"/><line x1="644.4" y1="392.2" x2="644.4" y2="405.2" stroke-width="1.3"/><circle cx="644.4" cy="398.7" r="2.8" fill="#2a2a2a" stroke-width="1"/></g>
<g stroke="#1a1a1a"><line x1="746.7" y1="398.7" x2="759.7" y2="398.7" stroke-width="1.3"/><line x1="753.2" y1="392.2" x2="753.2" y2="405.2" stroke-width="1.3"/><circle cx="753.2" cy="398.7" r="2.8" fill="#2a2a2a" stroke-width="1"/></g>
<g stroke="#1a1a1a"><line x1="637.9" y1="557" x2="650.9" y2="557" stroke-width="1.3"/><line x1="644.4" y1="550.5" x2="644.4" y2="563.5" stroke-width="1.3"/><circle cx="644.4" cy="557" r="2.8" fill="#2a2a2a" stroke-width="1"/></g>
<g stroke="#1a1a1a"><line x1="746.8" y1="557" x2="759.8" y2="557" stroke-width="1.3"/><line x1="753.3" y1="550.5" x2="753.3" y2="563.5" stroke-width="1.3"/><circle cx="753.3" cy="557" r="2.8" fill="#2a2a2a" stroke-width="1"/></g>
<g stroke="#1a1a1a"><line x1="879.9" y1="352.5" x2="892.9" y2="352.5" stroke-width="1.3"/><line x1="886.4" y1="346.0" x2="886.4" y2="359.0" stroke-width="1.3"/><circle cx="886.4" cy="352.5" r="2.8" fill="#2a2a2a" stroke-width="1"/></g>
<g stroke="#1a1a1a"><line x1="855.3" y1="397.6" x2="868.3" y2="397.6" stroke-width="1.3"/><line x1="861.8" y1="391.1" x2="861.8" y2="404.1" stroke-width="1.3"/><circle cx="861.8" cy="397.6" r="2.8" fill="#2a2a2a" stroke-width="1"/></g>
<g stroke="#1a1a1a"><line x1="976.9" y1="387.5" x2="989.9" y2="387.5" stroke-width="1.3"/><line x1="983.4" y1="381.0" x2="983.4" y2="394.0" stroke-width="1.3"/><circle cx="983.4" cy="387.5" r="2.8" fill="#2a2a2a" stroke-width="1"/></g>
<g stroke="#1a1a1a"><line x1="961.4" y1="556.8" x2="974.4" y2="556.8" stroke-width="1.3"/><line x1="967.9" y1="550.3" x2="967.9" y2="563.3" stroke-width="1.3"/><circle cx="967.9" cy="556.8" r="2.8" fill="#2a2a2a" stroke-width="1"/></g>
<g stroke="#1a1a1a"><line x1="855.9" y1="556.8" x2="868.9" y2="556.8" stroke-width="1.3"/><line x1="862.4" y1="550.3" x2="862.4" y2="563.3" stroke-width="1.3"/><circle cx="862.4" cy="556.8" r="2.8" fill="#2a2a2a" stroke-width="1"/></g>
<g stroke="#1a1a1a"><line x1="1206.3" y1="376.7" x2="1219.3" y2="376.7" stroke-width="1.3"/><line x1="1212.8" y1="370.2" x2="1212.8" y2="383.2" stroke-width="1.3"/><circle cx="1212.8" cy="376.7" r="2.8" fill="#2a2a2a" stroke-width="1"/></g>
<g stroke="#1a1a1a"><line x1="1302.9" y1="376.7" x2="1315.9" y2="376.7" stroke-width="1.3"/><line x1="1309.4" y1="370.2" x2="1309.4" y2="383.2" stroke-width="1.3"/><circle cx="1309.4" cy="376.7" r="2.8" fill="#2a2a2a" stroke-width="1"/></g>
<g stroke="#1a1a1a"><line x1="1098.7" y1="572.4" x2="1111.7" y2="572.4" stroke-width="1.3"/><line x1="1105.2" y1="565.9" x2="1105.2" y2="578.9" stroke-width="1.3"/><circle cx="1105.2" cy="572.4" r="2.8" fill="#2a2a2a" stroke-width="1"/></g>
<g stroke="#1a1a1a"><line x1="961.0" y1="463.3" x2="974.0" y2="463.3" stroke-width="1.3"/><line x1="967.5" y1="456.8" x2="967.5" y2="469.8" stroke-width="1.3"/><circle cx="967.5" cy="463.3" r="2.8" fill="#2a2a2a" stroke-width="1"/></g>
<g class="hv">
<text x="263.3" y="379.6" font-size="10" font-weight="bold" text-anchor="middle" textLength="9.5" lengthAdjust="spacingAndGlyphs" >36</text>
<text x="302.6" y="414.4" font-size="10" font-weight="bold" text-anchor="middle" textLength="9.5" lengthAdjust="spacingAndGlyphs" >36</text>
<text x="408" y="414.4" font-size="10" font-weight="bold" text-anchor="middle" textLength="9.5" lengthAdjust="spacingAndGlyphs" >36</text>
<text x="528.7" y="390.7" font-size="10" font-weight="bold" text-anchor="middle" textLength="9.5" lengthAdjust="spacingAndGlyphs" >18</text>
<text x="578.2" y="390.7" font-size="10" font-weight="bold" text-anchor="middle" textLength="9.5" lengthAdjust="spacingAndGlyphs" >24</text>
<text x="481.4" y="452" font-size="10" font-weight="bold" text-anchor="middle" textLength="9.5" lengthAdjust="spacingAndGlyphs" >36</text>
<text x="338.5" y="586.7" font-size="10" font-weight="bold" text-anchor="middle" textLength="9.5" lengthAdjust="spacingAndGlyphs" >24</text>
<text x="448" y="587.2" font-size="10" font-weight="bold" text-anchor="middle" textLength="9.5" lengthAdjust="spacingAndGlyphs" >24</text>
<text x="962.3" y="413.4" font-size="10" font-weight="bold" text-anchor="middle" textLength="9.5" lengthAdjust="spacingAndGlyphs" >36</text>
<text x="1181.5" y="458.2" font-size="10" font-weight="bold" text-anchor="middle" textLength="9.5" lengthAdjust="spacingAndGlyphs" >36</text>
<text x="1216" y="398.1" font-size="10" font-weight="bold" text-anchor="middle" textLength="9.5" lengthAdjust="spacingAndGlyphs" >36</text>
<text x="1309.4" y="398.1" font-size="10" font-weight="bold" text-anchor="middle" textLength="9.5" lengthAdjust="spacingAndGlyphs" >36</text>
<text x="1135.4" y="535.6" font-size="10" font-weight="bold" text-anchor="middle" textLength="9.5" lengthAdjust="spacingAndGlyphs" >36</text>
<text x="1180.4" y="578.8" font-size="10" font-weight="bold" text-anchor="middle" textLength="9.5" lengthAdjust="spacingAndGlyphs" >36</text>
<text x="167" y="472.2" font-size="10.5" textLength="50.3" lengthAdjust="spacingAndGlyphs" >ELEC PANEL</text>
<text x="175.5" y="484.8" font-size="10.5" textLength="32.5" lengthAdjust="spacingAndGlyphs" >(FLOOR)</text>
<text x="188.5" y="426.5" font-size="9.6" text-anchor="middle" textLength="27" lengthAdjust="spacingAndGlyphs" >DRYER</text>
<text x="236.3" y="426.5" font-size="9.6" text-anchor="middle" textLength="33" lengthAdjust="spacingAndGlyphs" >WASHER</text>
<text x="396.3" y="534" font-size="8.5" text-anchor="middle" textLength="23" lengthAdjust="spacingAndGlyphs" >ATB 5'</text>
<text x="396.3" y="544.1" font-size="8.5" text-anchor="middle" textLength="33" lengthAdjust="spacingAndGlyphs" >DOMETOP</text>
<text x="651.7" y="372.2" font-size="9.5" textLength="25.5" lengthAdjust="spacingAndGlyphs" >CABLE</text>
<text x="663.7" y="473.1" font-size="9.5" textLength="80.8" lengthAdjust="spacingAndGlyphs" >CATHEDRAL CEILING</text>
<text x="644.4" y="496.1" font-size="9.5" textLength="41.9" lengthAdjust="spacingAndGlyphs" >MINI SPLIT</text>
<text x="644.4" y="505.8" font-size="9.5" textLength="72.8" lengthAdjust="spacingAndGlyphs" >HEAD BY OTHERS</text>
<text x="636.7" y="576" font-size="9.5" textLength="39.3" lengthAdjust="spacingAndGlyphs" >2x4 WALL</text>
<text x="804" y="377" font-size="9.5" textLength="22.2" lengthAdjust="spacingAndGlyphs" >REF'G</text>
<text x="876" y="388" font-size="9.5" textLength="27" lengthAdjust="spacingAndGlyphs" >PHONE</text>
<text x="876" y="398.4" font-size="9.5" textLength="27" lengthAdjust="spacingAndGlyphs" >&amp; USB</text>
<text x="811.2" y="444.3" font-size="10" textLength="93.4" lengthAdjust="spacingAndGlyphs" >ELEC TOEKICK HEATER</text>
<text x="820.7" y="469.6" font-size="9.5" text-anchor="middle" >DW</text>
<text x="903" y="469.6" font-size="9.5" text-anchor="middle" textLength="16.5" lengthAdjust="spacingAndGlyphs" >RBC</text>
<text x="852.3" y="490.2" font-size="9.5" text-anchor="middle" textLength="20.5" lengthAdjust="spacingAndGlyphs" >BT36</text>
<text x="843.6" y="498.4" font-size="9.5" text-anchor="middle" textLength="27.5" lengthAdjust="spacingAndGlyphs" >ISLAND</text>
<text transform="translate(928.3,434.8) rotate(-90)" font-size="9" textLength="31" lengthAdjust="spacingAndGlyphs" >FRENCH</text>
<text transform="translate(937.8,438) rotate(-90)" font-size="9" textLength="36.5" lengthAdjust="spacingAndGlyphs" >OBSCURE</text>
<text x="971" y="359.7" font-size="9.5" textLength="32.6" lengthAdjust="spacingAndGlyphs" >PANTRY</text>
<text transform="translate(1002.6,461) rotate(-90)" font-size="8.5" textLength="12" lengthAdjust="spacingAndGlyphs" >DB</text>
<text transform="translate(982.5,506.4) rotate(-90)" font-size="9" textLength="25.8" lengthAdjust="spacingAndGlyphs" >RANGE</text>
<text x="1076.6" y="367.5" font-size="9" text-anchor="middle" textLength="30" lengthAdjust="spacingAndGlyphs" >AS12 60"</text>
<text x="1076" y="377.4" font-size="9" text-anchor="middle" textLength="32" lengthAdjust="spacingAndGlyphs" >SHOWER</text>
<text x="1068.9" y="452.5" font-size="9" textLength="38.9" lengthAdjust="spacingAndGlyphs" >VFS2D42L</text>
<text transform="translate(1045.5,478.5) rotate(-90)" font-size="8.5" textLength="13" lengthAdjust="spacingAndGlyphs" >15"</text>
<text transform="translate(1056,480) rotate(-90)" font-size="8.5" textLength="20" lengthAdjust="spacingAndGlyphs" >LINEN</text>
<text x="1062.3" y="503.6" font-size="9.5" text-anchor="middle" textLength="14.5" lengthAdjust="spacingAndGlyphs" >CB1</text>
<text x="1039.3" y="533.2" font-size="9.5" textLength="47.1" lengthAdjust="spacingAndGlyphs" >BN2 BENCH</text>
<text transform="translate(381,418.5) rotate(90)" font-size="8.5" textLength="35" lengthAdjust="spacingAndGlyphs" >VFS2027L</text>
<text transform="translate(950,461) rotate(-36)" font-size="10.5" textLength="38" lengthAdjust="spacingAndGlyphs" text-anchor="middle" style="word-spacing:1px">3'–1 1/2"</text>
<text x="578.8" y="356.5" font-size="6" text-anchor="middle" textLength="10" lengthAdjust="spacingAndGlyphs" >DRY</text>
<text x="578.8" y="376" font-size="7" text-anchor="middle" textLength="13" lengthAdjust="spacingAndGlyphs" >WH2</text>
</g>
<g class="hv hv2">
<line x1="148" y1="253.5" x2="1380" y2="253.5" stroke="#3c3c3c" stroke-width="0.9"/>
<line x1="148" y1="280.5" x2="1380" y2="280.5" stroke="#3c3c3c" stroke-width="0.9"/>
<line x1="151.9" y1="284.0" x2="158.9" y2="277.0" stroke="#333" stroke-width="0.9"/>
<line x1="155.4" y1="276" x2="155.4" y2="329" stroke="#3c3c3c" stroke-width="0.8"/>
<line x1="258.8" y1="284.0" x2="265.8" y2="277.0" stroke="#333" stroke-width="0.9"/>
<line x1="262.3" y1="276" x2="262.3" y2="329" stroke="#3c3c3c" stroke-width="0.8"/>
<line x1="503.5" y1="284.0" x2="510.5" y2="277.0" stroke="#333" stroke-width="0.9"/>
<line x1="507" y1="276" x2="507" y2="329" stroke="#3c3c3c" stroke-width="0.8"/>
<line x1="548.2" y1="284.0" x2="555.2" y2="277.0" stroke="#333" stroke-width="0.9"/>
<line x1="551.7" y1="276" x2="551.7" y2="329" stroke="#3c3c3c" stroke-width="0.8"/>
<line x1="602.0" y1="284.0" x2="609.0" y2="277.0" stroke="#333" stroke-width="0.9"/>
<line x1="605.5" y1="276" x2="605.5" y2="329" stroke="#3c3c3c" stroke-width="0.8"/>
<line x1="785.7" y1="284.0" x2="792.7" y2="277.0" stroke="#333" stroke-width="0.9"/>
<line x1="789.2" y1="276" x2="789.2" y2="329" stroke="#3c3c3c" stroke-width="0.8"/>
<line x1="934.0" y1="284.0" x2="941.0" y2="277.0" stroke="#333" stroke-width="0.9"/>
<line x1="937.5" y1="276" x2="937.5" y2="329" stroke="#3c3c3c" stroke-width="0.8"/>
<line x1="1025.4" y1="284.0" x2="1032.4" y2="277.0" stroke="#333" stroke-width="0.9"/>
<line x1="1028.9" y1="276" x2="1028.9" y2="329" stroke="#3c3c3c" stroke-width="0.8"/>
<line x1="1121.3" y1="284.0" x2="1128.3" y2="277.0" stroke="#333" stroke-width="0.9"/>
<line x1="1124.8" y1="276" x2="1124.8" y2="329" stroke="#3c3c3c" stroke-width="0.8"/>
<line x1="1177.7" y1="284.0" x2="1184.7" y2="277.0" stroke="#333" stroke-width="0.9"/>
<line x1="1181.2" y1="276" x2="1181.2" y2="329" stroke="#3c3c3c" stroke-width="0.8"/>
<line x1="1270.8" y1="284.0" x2="1277.8" y2="277.0" stroke="#333" stroke-width="0.9"/>
<line x1="1274.3" y1="276" x2="1274.3" y2="329" stroke="#3c3c3c" stroke-width="0.8"/>
<line x1="1369.7" y1="284.0" x2="1376.7" y2="277.0" stroke="#333" stroke-width="0.9"/>
<line x1="1373.2" y1="276" x2="1373.2" y2="329" stroke="#3c3c3c" stroke-width="0.8"/>
<line x1="151.9" y1="257.0" x2="158.9" y2="250.0" stroke="#333" stroke-width="0.9"/>
<line x1="1369.7" y1="257.0" x2="1376.7" y2="250.0" stroke="#333" stroke-width="0.9"/>
<line x1="155.4" y1="247" x2="155.4" y2="285" stroke="#3c3c3c" stroke-width="0.8"/>
<line x1="1373.2" y1="247" x2="1373.2" y2="285" stroke="#3c3c3c" stroke-width="0.8"/>
<text x="739.9" y="250.5" font-size="11.5" text-anchor="middle" textLength="34.4" lengthAdjust="spacingAndGlyphs" >68'–0"</text>
<text x="206" y="276" font-size="11.5" text-anchor="middle" textLength="58.6" lengthAdjust="spacingAndGlyphs" >5'–11  3/4"</text>
<text x="382.5" y="276" font-size="11.5" text-anchor="middle" textLength="33.8" lengthAdjust="spacingAndGlyphs" >13'–8"</text>
<text x="530" y="276" font-size="11.5" text-anchor="middle" textLength="27.9" lengthAdjust="spacingAndGlyphs" >2'–6"</text>
<text x="577.9" y="276" font-size="11.5" text-anchor="middle" textLength="28.8" lengthAdjust="spacingAndGlyphs" >3'–0"</text>
<text x="697.9" y="276" font-size="11.5" text-anchor="middle" textLength="58.8" lengthAdjust="spacingAndGlyphs" >10'–3 1/8"</text>
<text x="862.4" y="276" font-size="11.5" text-anchor="middle" textLength="54.8" lengthAdjust="spacingAndGlyphs" >8'–3 3/8"</text>
<text x="980.6" y="276" font-size="11.5" text-anchor="middle" textLength="52.6" lengthAdjust="spacingAndGlyphs" >5'–1 1/4"</text>
<text x="1075.8" y="276" font-size="11.5" text-anchor="middle" textLength="28.4" lengthAdjust="spacingAndGlyphs" >5'–4"</text>
<text x="1152" y="276" font-size="11.5" text-anchor="middle" textLength="28" lengthAdjust="spacingAndGlyphs" >3'–2"</text>
<text x="1226.8" y="276" font-size="11.5" text-anchor="middle" textLength="55" lengthAdjust="spacingAndGlyphs" >5'–2 1/4"</text>
<text x="1321.5" y="276" font-size="11.5" text-anchor="middle" textLength="53.2" lengthAdjust="spacingAndGlyphs" >5'–6 1/4"</text>
<line x1="148" y1="669.8" x2="1380" y2="669.8" stroke="#3c3c3c" stroke-width="0.9"/>
<line x1="150.0" y1="673.3" x2="157.0" y2="666.3" stroke="#333" stroke-width="0.9"/>
<line x1="153.5" y1="625" x2="153.5" y2="676" stroke="#3c3c3c" stroke-width="0.8"/>
<line x1="335.6" y1="673.3" x2="342.6" y2="666.3" stroke="#333" stroke-width="0.9"/>
<line x1="339.1" y1="625" x2="339.1" y2="676" stroke="#3c3c3c" stroke-width="0.8"/>
<line x1="388.9" y1="673.3" x2="395.9" y2="666.3" stroke="#333" stroke-width="0.9"/>
<line x1="392.4" y1="625" x2="392.4" y2="676" stroke="#3c3c3c" stroke-width="0.8"/>
<line x1="443.4" y1="673.3" x2="450.4" y2="666.3" stroke="#333" stroke-width="0.9"/>
<line x1="446.9" y1="625" x2="446.9" y2="676" stroke="#3c3c3c" stroke-width="0.8"/>
<line x1="600.8" y1="673.3" x2="607.8" y2="666.3" stroke="#333" stroke-width="0.9"/>
<line x1="604.3" y1="625" x2="604.3" y2="676" stroke="#3c3c3c" stroke-width="0.8"/>
<line x1="1024.9" y1="673.3" x2="1031.9" y2="666.3" stroke="#333" stroke-width="0.9"/>
<line x1="1028.4" y1="625" x2="1028.4" y2="676" stroke="#3c3c3c" stroke-width="0.8"/>
<line x1="1177.5" y1="673.3" x2="1184.5" y2="666.3" stroke="#333" stroke-width="0.9"/>
<line x1="1181" y1="625" x2="1181" y2="676" stroke="#3c3c3c" stroke-width="0.8"/>
<line x1="1369.7" y1="673.3" x2="1376.7" y2="666.3" stroke="#333" stroke-width="0.9"/>
<line x1="1373.2" y1="625" x2="1373.2" y2="676" stroke="#3c3c3c" stroke-width="0.8"/>
<text x="245.5" y="666.4" font-size="11.5" text-anchor="middle" textLength="34.3" lengthAdjust="spacingAndGlyphs" >10'–4"</text>
<text x="361.1" y="666.4" font-size="11.5" text-anchor="middle" textLength="32.4" lengthAdjust="spacingAndGlyphs" >2'–11"</text>
<text x="427.1" y="682.1" font-size="11.5" text-anchor="middle" textLength="53.3" lengthAdjust="spacingAndGlyphs" >3'–0 1/4"</text>
<text x="524.2" y="666.4" font-size="11.5" text-anchor="middle" textLength="34.1" lengthAdjust="spacingAndGlyphs" >8'–10"</text>
<text x="815" y="664.8" font-size="11.5" text-anchor="middle" textLength="60.2" lengthAdjust="spacingAndGlyphs" >23'–8 1/4"</text>
<text x="1104" y="666.9" font-size="11.5" text-anchor="middle" textLength="28.8" lengthAdjust="spacingAndGlyphs" >8'–6"</text>
<text x="1273.1" y="666.9" font-size="11.5" text-anchor="middle" textLength="56.8" lengthAdjust="spacingAndGlyphs" >10'–8 1/2"</text>
<text x="204.5" y="330.5" font-size="10.5" text-anchor="middle" textLength="33" lengthAdjust="spacingAndGlyphs" >S3036</text>
<text x="403.2" y="330.5" font-size="10.5" text-anchor="middle" textLength="47.3" lengthAdjust="spacingAndGlyphs" >SD03–36</text>
<text x="697" y="330" font-size="10.5" text-anchor="middle" textLength="30" lengthAdjust="spacingAndGlyphs" >F7218</text>
<text x="885" y="330.5" font-size="10.5" text-anchor="middle" textLength="31.6" lengthAdjust="spacingAndGlyphs" >S3036</text>
<text x="1152" y="328.2" font-size="10.5" text-anchor="middle" textLength="31" lengthAdjust="spacingAndGlyphs" >S2436</text>
<text x="279.4" y="635.1" font-size="10.5" text-anchor="middle" textLength="31.3" lengthAdjust="spacingAndGlyphs" >S3856</text>
<text x="481.9" y="635.1" font-size="10.5" text-anchor="middle" textLength="30.6" lengthAdjust="spacingAndGlyphs" >S3856</text>
<text x="697.2" y="629.4" font-size="10.5" text-anchor="middle" textLength="47.1" lengthAdjust="spacingAndGlyphs" >S3856–2</text>
<text x="914" y="629.4" font-size="10.5" text-anchor="middle" textLength="46.4" lengthAdjust="spacingAndGlyphs" >S3856–2</text>
<text x="1080.1" y="629.1" font-size="10.5" text-anchor="middle" textLength="51.4" lengthAdjust="spacingAndGlyphs" >SD014–36</text>
<text x="1261.4" y="635.2" font-size="10.5" text-anchor="middle" textLength="31.5" lengthAdjust="spacingAndGlyphs" >S3856</text>
<text x="484.7" y="318.1" font-size="10" textLength="86.5" lengthAdjust="spacingAndGlyphs" >MINI SPLIT PREP</text>
<path d="M573,313 L588,313 L598,331" stroke="#3c3c3c" stroke-width="0.8" fill="none" />
<text x="815" y="322.2" font-size="10.5" textLength="38.7" lengthAdjust="spacingAndGlyphs" >OS TAP</text>
<path d="M852,318 Q862,318 866,331" stroke="#3c3c3c" stroke-width="0.8" fill="none" />
<line x1="609" y1="354.5" x2="644" y2="368.5" stroke="#3c3c3c" stroke-width="0.8"/>
<line x1="644" y1="368.5" x2="651" y2="368.5" stroke="#3c3c3c" stroke-width="0.8"/>
<path d="M622,510 L638,496.8 L644,496.8" stroke="#3c3c3c" stroke-width="0.8" fill="none" />
<line x1="609" y1="572.7" x2="636" y2="572.7" stroke="#3c3c3c" stroke-width="0.8"/>
<path d="M904,390 L910,390 L926,344.5" stroke="#3c3c3c" stroke-width="0.8" fill="none" />
<line x1="70" y1="329" x2="70" y2="622" stroke="#3c3c3c" stroke-width="0.9"/>
<line x1="98" y1="329" x2="98" y2="622" stroke="#3c3c3c" stroke-width="0.9"/>
<line x1="62" y1="334.7" x2="150" y2="334.7" stroke="#3c3c3c" stroke-width="0.8"/>
<line x1="66.5" y1="338.2" x2="73.5" y2="331.2" stroke="#333" stroke-width="0.9"/>
<line x1="94.5" y1="338.2" x2="101.5" y2="331.2" stroke="#333" stroke-width="0.9"/>
<line x1="62" y1="454.7" x2="150" y2="454.7" stroke="#3c3c3c" stroke-width="0.8"/>
<line x1="66.5" y1="458.2" x2="73.5" y2="451.2" stroke="#333" stroke-width="0.9"/>
<line x1="94.5" y1="458.2" x2="101.5" y2="451.2" stroke="#333" stroke-width="0.9"/>
<line x1="62" y1="616.5" x2="150" y2="616.5" stroke="#3c3c3c" stroke-width="0.8"/>
<line x1="66.5" y1="620.0" x2="73.5" y2="613.0" stroke="#333" stroke-width="0.9"/>
<line x1="94.5" y1="620.0" x2="101.5" y2="613.0" stroke="#333" stroke-width="0.9"/>
<line x1="88" y1="529.9" x2="164" y2="529.9" stroke="#3c3c3c" stroke-width="0.8"/>
<line x1="94.5" y1="533.4" x2="101.5" y2="526.4" stroke="#333" stroke-width="0.9"/>
<text transform="translate(67.5,476.7) rotate(-90)" font-size="11.5" text-anchor="middle" textLength="36" lengthAdjust="spacingAndGlyphs" >15'–9"</text>
<text transform="translate(93,396.7) rotate(-90)" font-size="11.5" text-anchor="middle" textLength="52" lengthAdjust="spacingAndGlyphs" >6'–8 1/2"</text>
<text transform="translate(93,537.3) rotate(-90)" font-size="11.5" text-anchor="middle" textLength="53.3" lengthAdjust="spacingAndGlyphs" >9'–0 1/2"</text>
<text x="108" y="437" font-size="11.5" textLength="27" lengthAdjust="spacingAndGlyphs" >MAST</text>
<path d="M136,433.5 L144,433.5 L154,449" stroke="#3c3c3c" stroke-width="0.8" fill="none" />
<text x="110" y="526" font-size="11.5" textLength="28" lengthAdjust="spacingAndGlyphs" >3'–3"</text>
<line x1="1427.4" y1="329" x2="1427.4" y2="622" stroke="#3c3c3c" stroke-width="0.9"/>
<line x1="1378.4" y1="335.4" x2="1433" y2="335.4" stroke="#3c3c3c" stroke-width="0.8"/>
<line x1="1423.9" y1="338.9" x2="1430.9" y2="331.9" stroke="#333" stroke-width="0.9"/>
<line x1="1378.4" y1="395" x2="1433" y2="395" stroke="#3c3c3c" stroke-width="0.8"/>
<line x1="1423.9" y1="398.5" x2="1430.9" y2="391.5" stroke="#333" stroke-width="0.9"/>
<line x1="1378.4" y1="616.5" x2="1433" y2="616.5" stroke="#3c3c3c" stroke-width="0.8"/>
<line x1="1423.9" y1="620.0" x2="1430.9" y2="613.0" stroke="#333" stroke-width="0.9"/>
<text transform="translate(1421.5,367) rotate(-90)" font-size="11.5" text-anchor="middle" textLength="52.5" lengthAdjust="spacingAndGlyphs" >3'–4 1/2"</text>
<text transform="translate(1421.5,501.2) rotate(-90)" font-size="11.5" text-anchor="middle" textLength="56.6" lengthAdjust="spacingAndGlyphs" >12'–4 1/2"</text>
<line x1="791.4" y1="343.8" x2="791.4" y2="446.6" stroke="#3c3c3c" stroke-width="0.8"/>
<line x1="787.9" y1="450.1" x2="794.9" y2="443.1" stroke="#333" stroke-width="0.9"/>
<line x1="787.9" y1="347.3" x2="794.9" y2="340.3" stroke="#333" stroke-width="0.9"/>
<line x1="808" y1="379.4" x2="808" y2="446.6" stroke="#3c3c3c" stroke-width="0.8"/>
<line x1="804.5" y1="450.1" x2="811.5" y2="443.1" stroke="#333" stroke-width="0.9"/>
<line x1="804.5" y1="382.9" x2="811.5" y2="375.9" stroke="#333" stroke-width="0.9"/>
<line x1="785" y1="446.6" x2="812" y2="446.6" stroke="#3c3c3c" stroke-width="0.8"/>
<text transform="translate(789,419.7) rotate(-90)" font-size="9.5" text-anchor="middle" textLength="22" lengthAdjust="spacingAndGlyphs" >5'–8"</text>
<text transform="translate(805,413.4) rotate(-90)" font-size="9.5" text-anchor="middle" textLength="22" lengthAdjust="spacingAndGlyphs" >3'–8"</text>
<line x1="913.4" y1="508" x2="986" y2="508" stroke="#3c3c3c" stroke-width="0.8"/>
<line x1="913.4" y1="521.4" x2="1032" y2="521.4" stroke="#3c3c3c" stroke-width="0.8"/>
<line x1="913.4" y1="499" x2="913.4" y2="526.6" stroke="#3c3c3c" stroke-width="0.8"/>
<line x1="909.9" y1="511.5" x2="916.9" y2="504.5" stroke="#333" stroke-width="0.9"/>
<line x1="909.9" y1="524.9" x2="916.9" y2="517.9" stroke="#333" stroke-width="0.9"/>
<text x="951.8" y="504.5" font-size="9.5" text-anchor="middle" textLength="22" lengthAdjust="spacingAndGlyphs" >4'–3"</text>
<text x="946" y="516" font-size="9.5" text-anchor="middle" textLength="22" lengthAdjust="spacingAndGlyphs" >6'–3"</text>
</g>
</g>
<path fill="#fff" fill-opacity="0.58" fill-rule="evenodd" d="M9,0 H181 V213 H9 Z M9,9 H162.5 V169 H9 Z M30.4,27.8 H73.9 V148.6 H30.4 Z M90.7,27.8 H104.8 A28.6,28.6 0 0 1 104.8,85 H90.7 Z M90.7,89.5 L150,148.6 H90.7 Z"/>
<path fill="#646464" fill-opacity="0.48" fill-rule="evenodd" d="M9,9 H162.5 V169 H9 Z M30.4,27.8 H73.9 V148.6 H30.4 Z M90.7,27.8 H104.8 A28.6,28.6 0 0 1 104.8,85 H90.7 Z M90.7,89.5 L150,148.6 H90.7 Z"/>
<path d="M10.6,204.3 V180.1 H19.5 A5.7,5.7 0 0 1 19.5,191.5 H10.6 M18.5,191.5 L26.5,204.3 M46.4,180.1 H33.8 V202.7 H46.4 M33.8,191.4 H45.5 M51.2,204.3 L63.1,178.8 L75,204.3 M55,196.3 H71.2 M82.1,178.5 V202.7 H94.7 M95.3,180.1 H108.8 M102,180.1 V204.3 M147.1,204.3 V180.1 H156 A5.7,5.7 0 0 1 156,191.5 H147.1 M155,191.5 L163,204.3" fill="none" stroke="#a9a9a9" stroke-width="2.8" stroke-linejoin="miter"/>
<circle cx="126.5" cy="191.4" r="12.3" fill="none" stroke="#a9a9a9" stroke-width="2.8"/>
<circle cx="170" cy="178.5" r="6.6" fill="none" stroke="#b0b0b0" stroke-width="1.3"/>
<text x="166.7" y="181.8" font-size="8.5" style="fill:#b0b0b0" >R</text>
<defs><clipPath id="wmc"><rect x="466" y="1135.6" width="621" height="24.2"/></clipPath><linearGradient id="wmg" x1="0" x2="1" y1="0" y2="0"><stop offset="0" stop-color="#d4d4d4"/><stop offset="0.5" stop-color="#dedede"/><stop offset="0.75" stop-color="#e6e6e6"/><stop offset="1" stop-color="#d6d6d6"/></linearGradient></defs>
<rect x="466" y="1135.6" width="621" height="24.2" fill="url(#wmg)"/>
<g clip-path="url(#wmc)">
<text x="463" y="1155" font-size="24" textLength="34" lengthAdjust="spacingAndGlyphs" style="fill:#fff" >(C)</text>
<text x="505" y="1155" font-size="24" textLength="446" lengthAdjust="spacingAndGlyphs" style="fill:#fff" >SOURCE REAL ASSET SERVICES INC.,</text>
<text x="964.2" y="1155" font-size="24" textLength="128" lengthAdjust="spacingAndGlyphs" style="fill:#fff" >Brokerage</text>
</g>
</svg></body></html>
